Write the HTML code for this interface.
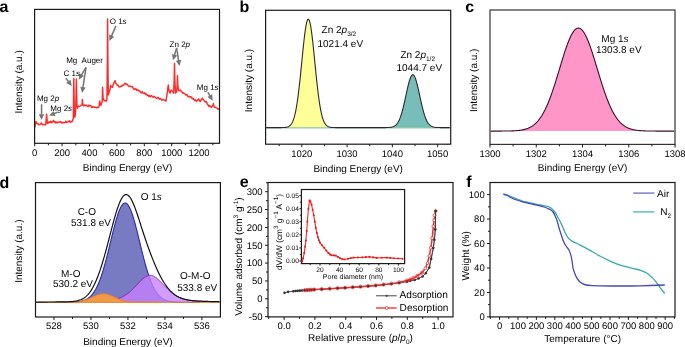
<!DOCTYPE html><html><head><meta charset="utf-8"><style>html,body{margin:0;padding:0;background:#fff;}svg{display:block;will-change:transform;}text{font-family:"Liberation Sans",sans-serif;fill:#000;text-rendering:geometricPrecision;}</style></head><body>
<svg width="685" height="347" viewBox="0 0 685 347">
<text x="-0.5" y="12.1" font-size="16" font-weight="bold" fill="#000">a</text>
<text x="239.5" y="12.3" font-size="16" font-weight="bold" fill="#000">b</text>
<text x="465.2" y="12.3" font-size="16" font-weight="bold" fill="#000">c</text>
<text x="-0.5" y="188" font-size="16" font-weight="bold" fill="#000">d</text>
<text x="239.7" y="187.1" font-size="16" font-weight="bold" fill="#000">e</text>
<text x="466.2" y="186.8" font-size="16" font-weight="bold" fill="#000">f</text>
<path d="M34.8 127.3 L35.9 121.5 L37.3 123.8 L38.05 123.73 L38.8 124.7 L39.65 124.49 L40.5 124.1 L41.4 123 L42.2 124.7 L43.1 124.34 L44 124.5 L44.85 124.81 L45.7 124.7 L46.3 118 L46.6 114.3 L47 119 L47.4 123.3 L48.17 123.25 L48.93 121.83 L49.7 122.4 L50.43 121.35 L51.15 122.92 L51.88 121.69 L52.6 122.1 L53.5 120.4 L54.3 122.1 L55.08 121.57 L55.87 123.09 L56.65 122.04 L57.43 122.77 L58.22 122.05 L59 122.1 L59.8 122.44 L60.6 121.52 L61.4 122.55 L62.2 123.08 L63 122.4 L63.71 122.36 L64.43 122.71 L65.14 122.49 L65.86 121.19 L66.57 122.49 L67.29 122.07 L68 121.8 L68.72 121.34 L69.43 120.73 L70.15 122.33 L70.87 121.48 L71.58 121.9 L72.3 121.4 L73.3 118.2 L73.8 78.6 L74.3 112 L74.9 117.2 L75.6 112 L76.4 79.3 L76.9 104 L77.4 108.1 L78.8 106 L79.53 106.52 L80.27 105.96 L81 105.3 L82.1 104.8 L82.4 99.5 L82.8 105 L83.58 105.9 L84.36 104.91 L85.14 105.78 L85.92 105.13 L86.7 105.3 L87.42 106.35 L88.15 106.41 L88.88 105.02 L89.6 106 L90.32 105.47 L91.04 105.83 L91.76 107.53 L92.48 106.67 L93.2 107 L93.92 107.43 L94.64 106.96 L95.36 107.55 L96.08 107.49 L96.8 107.9 L97.53 107.3 L98.27 107.47 L99 107 L99.7 101 L100.3 104.5 L100.9 105.3 L102.2 101.5 L102.6 87.2 L103.1 98 L104 100.5 L104.75 100.72 L105.5 100.6 L106.2 101.11 L106.9 100 L107.4 60 L107.6 18.9 L107.9 60 L108.3 95 L108.6 94.3 L109.3 91.73 L110 89.29 L110.7 85.5 L111.55 87.11 L112.4 87.3 L113.8 83 L115.1 80.7 L115.8 83.33 L116.5 84 L117.33 85.28 L118.17 85.19 L119 86.8 L120 87.12 L121 86 L121.75 86.48 L122.5 85.1 L123.37 85.31 L124.23 84.04 L125.1 83.3 L126 84.33 L126.9 83.92 L127.8 85.1 L128.53 86.06 L129.27 85.85 L130 86 L131 86.8 L131.8 86.79 L132.6 86.77 L133.4 88.77 L134.2 89.46 L135 88.9 L135.8 88.5 L136.6 90.34 L137.4 89.98 L138.2 89.88 L139 91 L139.8 90.97 L140.6 92.3 L141.4 92.9 L142.2 91.62 L143 93.15 L143.8 93.3 L144.64 92.73 L145.48 94.42 L146.32 93.98 L147.16 95.42 L148 95 L148.75 96.26 L149.5 95.61 L150.25 96.9 L151 95.82 L151.75 95.65 L152.5 96.8 L153.25 97.23 L154 96.33 L154.75 96.89 L155.5 97.55 L156.25 98.19 L157 98.2 L157.75 97.61 L158.5 97.48 L159.25 99.24 L160 98.6 L160.75 98.48 L161.5 100.02 L162.25 100.14 L163 99.36 L163.75 99.77 L164.5 100.1 L165.25 100.64 L166 101.1 L167.2 93 L168.3 85 L169.1 91.1 L170.1 93.1 L171.1 90.1 L171.85 90.89 L172.6 91.1 L173.6 93.1 L174.2 80 L174.5 63.2 L174.8 80 L175.6 93.1 L176.6 92.1 L177.2 85 L177.5 75.8 L177.8 85 L178.6 90.6 L179.4 90.54 L180.2 90.1 L181 90.92 L181.8 91.74 L182.6 93.08 L183.4 92.91 L184.2 93.6 L184.95 93.9 L185.7 94.92 L186.45 94.39 L187.2 94.95 L187.95 96.74 L188.7 96.27 L189.45 96.76 L190.2 97.1 L190.96 96.64 L191.72 97.96 L192.49 98.8 L193.25 98.19 L194.01 99.89 L194.78 100.44 L195.54 99.81 L196.3 101.2 L197.13 100.75 L197.97 99.73 L198.8 99.1 L199.55 100.71 L200.3 101.6 L201.3 99.56 L202.3 98.1 L203.35 99.81 L204.4 100.7 L205.2 102.08 L206 101.54 L206.8 102.52 L207.6 104.65 L208.4 105.2 L209.15 106.63 L209.9 105.7 L210.65 106.61 L211.4 107.2 L212.15 106.29 L212.9 105 L213.4 103.6 L213.9 106 L214.4 107.2 L215.13 107.2 L215.86 107.64 L216.59 107.9 L217.31 108.37 L218.04 109.18 L218.77 108.94 L219.5 109.7" fill="none" stroke="#ff2a2a" stroke-width="1.45" stroke-linejoin="round"/>
<rect x="34.6" y="9.4" width="184.9" height="133.9" fill="none" stroke="#1a1a1a" stroke-width="1.2"/>
<path d="M34.7 143.3v3M62.1 143.3v3M89.5 143.3v3M116.9 143.3v3M144.3 143.3v3M171.7 143.3v3M199.1 143.3v3" stroke="#1a1a1a" stroke-width="1"/>
<path d="M48.4 143.3v2M75.8 143.3v2M103.2 143.3v2M130.6 143.3v2M158 143.3v2M185.4 143.3v2M212.8 143.3v2" stroke="#1a1a1a" stroke-width="1"/>
<text x="34.7" y="155.6" font-size="9.5" text-anchor="middle" >0</text>
<text x="62.1" y="155.6" font-size="9.5" text-anchor="middle" >200</text>
<text x="89.5" y="155.6" font-size="9.5" text-anchor="middle" >400</text>
<text x="116.9" y="155.6" font-size="9.5" text-anchor="middle" >600</text>
<text x="144.3" y="155.6" font-size="9.5" text-anchor="middle" >800</text>
<text x="171.7" y="155.6" font-size="9.5" text-anchor="middle" >1000</text>
<text x="199.1" y="155.6" font-size="9.5" text-anchor="middle" >1200</text>
<text x="127.5" y="170.9" font-size="10" text-anchor="middle" >Binding Energy (eV)</text>
<text transform="translate(21.6,81.9) rotate(-90)" font-size="10" text-anchor="middle">Intensity (a.u.)</text>
<line x1="41.6" y1="104.3" x2="41.53" y2="114.8" stroke="#747474" stroke-width="1.5"/>
<path d="M41.5 120.1L38.84 114.28L44.24 114.32Z" fill="#747474"/>
<line x1="57.4" y1="112.3" x2="54.05" y2="113.59" stroke="#747474" stroke-width="1.5"/>
<path d="M49.1 115.5L53.54 110.89L55.48 115.93Z" fill="#747474"/>
<line x1="65.9" y1="78.2" x2="68.63" y2="81.85" stroke="#747474" stroke-width="1.5"/>
<path d="M71.8 86.1L66.17 83.07L70.49 79.84Z" fill="#747474"/>
<line x1="86" y1="67.4" x2="81.4" y2="75.14" stroke="#747474" stroke-width="1.5"/>
<path d="M78.7 79.7L79.34 73.33L83.98 76.09Z" fill="#747474"/>
<line x1="86" y1="67.4" x2="82.9" y2="87.66" stroke="#747474" stroke-width="1.5"/>
<path d="M82.1 92.9L80.31 86.76L85.65 87.57Z" fill="#747474"/>
<line x1="115.9" y1="25.9" x2="111.5" y2="36.13" stroke="#747474" stroke-width="1.5"/>
<path d="M109.4 41L109.21 34.61L114.17 36.74Z" fill="#747474"/>
<line x1="176.6" y1="47.9" x2="174.48" y2="55.21" stroke="#747474" stroke-width="1.5"/>
<path d="M173 60.3L172.02 53.98L177.21 55.48Z" fill="#747474"/>
<line x1="176.6" y1="47.9" x2="178.66" y2="60.77" stroke="#747474" stroke-width="1.5"/>
<path d="M179.5 66L175.92 60.7L181.25 59.85Z" fill="#747474"/>
<line x1="207.8" y1="92.1" x2="210.08" y2="96.1" stroke="#747474" stroke-width="1.5"/>
<path d="M212.7 100.7L207.48 97L212.17 94.32Z" fill="#747474"/>
<g font-size="8">
<text x="36.9" y="100.9">Mg 2<tspan font-style="italic">p</tspan></text>
<text x="50.3" y="110.7">Mg 2<tspan font-style="italic">s</tspan></text>
<text x="63.6" y="75.6">C 1<tspan font-style="italic">s</tspan></text>
<text x="66.2" y="62.9">Mg</text>
<text x="81.6" y="62.9">Auger</text>
<text x="109.7" y="23.7">O 1<tspan font-style="italic">s</tspan></text>
<text x="169.6" y="46.8">Zn 2<tspan font-style="italic">p</tspan></text>
<text x="196.8" y="89.7">Mg 1<tspan font-style="italic">s</tspan></text>
</g>
<path d="M280.2 127.59 L280.7 127.59 L281.2 127.58 L281.7 127.57 L282.2 127.57 L282.7 127.55 L283.2 127.54 L283.7 127.52 L284.2 127.49 L284.7 127.45 L285.2 127.4 L285.7 127.34 L286.2 127.27 L286.7 127.17 L287.2 127.04 L287.7 126.89 L288.2 126.69 L288.7 126.45 L289.2 126.15 L289.7 125.79 L290.2 125.35 L290.7 124.83 L291.2 124.19 L291.7 123.44 L292.2 122.56 L292.7 121.51 L293.2 120.3 L293.7 118.9 L294.2 117.29 L294.7 115.45 L295.2 113.38 L295.7 111.04 L296.2 108.43 L296.7 105.55 L297.2 102.38 L297.7 98.92 L298.2 95.19 L298.7 91.18 L299.2 86.92 L299.7 82.42 L300.2 77.73 L300.7 72.88 L301.2 67.9 L301.7 62.86 L302.2 57.81 L302.7 52.81 L303.2 47.92 L303.7 43.21 L304.2 38.76 L304.7 34.61 L305.2 30.85 L305.7 27.53 L306.2 24.71 L306.7 22.43 L307.2 20.74 L307.7 19.66 L308.2 19.21 L308.7 19.41 L309.2 20.23 L309.7 21.69 L310.2 23.73 L310.7 26.34 L311.2 29.47 L311.7 33.06 L312.2 37.06 L312.7 41.4 L313.2 46.01 L313.7 50.84 L314.2 55.8 L314.7 60.84 L315.2 65.89 L315.7 70.9 L316.2 75.81 L316.7 80.57 L317.2 85.15 L317.7 89.5 L318.2 93.61 L318.7 97.46 L319.2 101.03 L319.7 104.31 L320.2 107.31 L320.7 110.03 L321.2 112.47 L321.7 114.65 L322.2 116.58 L322.7 118.28 L323.2 119.77 L323.7 121.05 L324.2 122.16 L324.7 123.11 L325.2 123.91 L325.7 124.59 L326.2 125.16 L326.7 125.63 L327.2 126.02 L327.7 126.34 L328.2 126.6 L328.7 126.81 L329.2 126.98 L329.7 127.12 L330.2 127.23 L330.7 127.31 L331.2 127.38 L331.7 127.43 L332.2 127.47 L332.7 127.51 L333.2 127.53 L333.7 127.55 L334.2 127.56 L334.7 127.57 L335.2 127.58 L335.7 127.58 L336.2 127.59 L336.7 127.59 L336.7 127.6 L280.2 127.6 Z" fill="#ffff99"/>
<path d="M384.2 127.59 L384.7 127.59 L385.2 127.58 L385.7 127.58 L386.2 127.57 L386.7 127.56 L387.2 127.55 L387.7 127.53 L388.2 127.51 L388.7 127.48 L389.2 127.45 L389.7 127.41 L390.2 127.35 L390.7 127.29 L391.2 127.21 L391.7 127.11 L392.2 126.99 L392.7 126.84 L393.2 126.67 L393.7 126.46 L394.2 126.2 L394.7 125.91 L395.2 125.56 L395.7 125.15 L396.2 124.68 L396.7 124.13 L397.2 123.5 L397.7 122.78 L398.2 121.97 L398.7 121.06 L399.2 120.03 L399.7 118.89 L400.2 117.63 L400.7 116.25 L401.2 114.75 L401.7 113.12 L402.2 111.38 L402.7 109.51 L403.2 107.54 L403.7 105.47 L404.2 103.32 L404.7 101.09 L405.2 98.81 L405.7 96.5 L406.2 94.18 L406.7 91.88 L407.2 89.62 L407.7 87.42 L408.2 85.32 L408.7 83.34 L409.2 81.52 L409.7 79.87 L410.2 78.42 L410.7 77.19 L411.2 76.2 L411.7 75.47 L412.2 75 L412.7 74.81 L413.2 74.89 L413.7 75.25 L414.2 75.88 L414.7 76.76 L415.2 77.9 L415.7 79.26 L416.2 80.84 L416.7 82.59 L417.2 84.51 L417.7 86.57 L418.2 88.73 L418.7 90.97 L419.2 93.26 L419.7 95.58 L420.2 97.89 L420.7 100.19 L421.2 102.43 L421.7 104.62 L422.2 106.72 L422.7 108.74 L423.2 110.64 L423.7 112.44 L424.2 114.11 L424.7 115.67 L425.2 117.1 L425.7 118.4 L426.2 119.59 L426.7 120.66 L427.2 121.62 L427.7 122.47 L428.2 123.23 L428.7 123.89 L429.2 124.47 L429.7 124.97 L430.2 125.4 L430.7 125.78 L431.2 126.09 L431.7 126.36 L432.2 126.59 L432.7 126.78 L433.2 126.93 L433.7 127.06 L434.2 127.17 L434.7 127.26 L435.2 127.33 L435.7 127.39 L436.2 127.43 L436.7 127.47 L437.2 127.5 L437.7 127.52 L438.2 127.54 L438.7 127.55 L439.2 127.57 L439.7 127.57 L440.2 127.58 L440.7 127.59 L441.2 127.59 L441.7 127.59 L441.7 127.6 L384.2 127.6 Z" fill="#77bdb9"/>
<line x1="265.6" y1="127.89999999999999" x2="450.7" y2="127.89999999999999" stroke="#6ab88c" stroke-width="1"/>
<path d="M266.2 127.6 L266.7 127.6 L267.2 127.6 L267.7 127.6 L268.2 127.6 L268.7 127.6 L269.2 127.6 L269.7 127.6 L270.2 127.6 L270.7 127.6 L271.2 127.6 L271.7 127.6 L272.2 127.6 L272.7 127.6 L273.2 127.6 L273.7 127.6 L274.2 127.6 L274.7 127.6 L275.2 127.6 L275.7 127.6 L276.2 127.6 L276.7 127.6 L277.2 127.6 L277.7 127.6 L278.2 127.6 L278.7 127.6 L279.2 127.6 L279.7 127.59 L280.2 127.59 L280.7 127.59 L281.2 127.58 L281.7 127.57 L282.2 127.57 L282.7 127.55 L283.2 127.54 L283.7 127.52 L284.2 127.49 L284.7 127.45 L285.2 127.4 L285.7 127.34 L286.2 127.27 L286.7 127.17 L287.2 127.04 L287.7 126.89 L288.2 126.69 L288.7 126.45 L289.2 126.15 L289.7 125.79 L290.2 125.35 L290.7 124.83 L291.2 124.19 L291.7 123.44 L292.2 122.56 L292.7 121.51 L293.2 120.3 L293.7 118.9 L294.2 117.29 L294.7 115.45 L295.2 113.38 L295.7 111.04 L296.2 108.43 L296.7 105.55 L297.2 102.38 L297.7 98.92 L298.2 95.19 L298.7 91.18 L299.2 86.92 L299.7 82.42 L300.2 77.73 L300.7 72.88 L301.2 67.9 L301.7 62.86 L302.2 57.81 L302.7 52.81 L303.2 47.92 L303.7 43.21 L304.2 38.76 L304.7 34.61 L305.2 30.85 L305.7 27.53 L306.2 24.71 L306.7 22.43 L307.2 20.74 L307.7 19.66 L308.2 19.21 L308.7 19.41 L309.2 20.23 L309.7 21.69 L310.2 23.73 L310.7 26.34 L311.2 29.47 L311.7 33.06 L312.2 37.06 L312.7 41.4 L313.2 46.01 L313.7 50.84 L314.2 55.8 L314.7 60.84 L315.2 65.89 L315.7 70.9 L316.2 75.81 L316.7 80.57 L317.2 85.15 L317.7 89.5 L318.2 93.61 L318.7 97.46 L319.2 101.03 L319.7 104.31 L320.2 107.31 L320.7 110.03 L321.2 112.47 L321.7 114.65 L322.2 116.58 L322.7 118.28 L323.2 119.77 L323.7 121.05 L324.2 122.16 L324.7 123.11 L325.2 123.91 L325.7 124.59 L326.2 125.16 L326.7 125.63 L327.2 126.02 L327.7 126.34 L328.2 126.6 L328.7 126.81 L329.2 126.98 L329.7 127.12 L330.2 127.23 L330.7 127.31 L331.2 127.38 L331.7 127.43 L332.2 127.47 L332.7 127.51 L333.2 127.53 L333.7 127.55 L334.2 127.56 L334.7 127.57 L335.2 127.58 L335.7 127.58 L336.2 127.59 L336.7 127.59 L337.2 127.59 L337.7 127.6 L338.2 127.6 L338.7 127.6 L339.2 127.6 L339.7 127.6 L340.2 127.6 L340.7 127.6 L341.2 127.6 L341.7 127.6 L342.2 127.6 L342.7 127.6 L343.2 127.6 L343.7 127.6 L344.2 127.6 L344.7 127.6 L345.2 127.6 L345.7 127.6 L346.2 127.6 L346.7 127.6 L347.2 127.6 L347.7 127.6 L348.2 127.6 L348.7 127.6 L349.2 127.6 L349.7 127.6 L350.2 127.6 L350.7 127.6 L351.2 127.6 L351.7 127.6 L352.2 127.6 L352.7 127.6 L353.2 127.6 L353.7 127.6 L354.2 127.6 L354.7 127.6 L355.2 127.6 L355.7 127.6 L356.2 127.6 L356.7 127.6 L357.2 127.6 L357.7 127.6 L358.2 127.6 L358.7 127.6 L359.2 127.6 L359.7 127.6 L360.2 127.6 L360.7 127.6 L361.2 127.6 L361.7 127.6 L362.2 127.6 L362.7 127.6 L363.2 127.6 L363.7 127.6 L364.2 127.6 L364.7 127.6 L365.2 127.6 L365.7 127.6 L366.2 127.6 L366.7 127.6 L367.2 127.6 L367.7 127.6 L368.2 127.6 L368.7 127.6 L369.2 127.6 L369.7 127.6 L370.2 127.6 L370.7 127.6 L371.2 127.6 L371.7 127.6 L372.2 127.6 L372.7 127.6 L373.2 127.6 L373.7 127.6 L374.2 127.6 L374.7 127.6 L375.2 127.6 L375.7 127.6 L376.2 127.6 L376.7 127.6 L377.2 127.6 L377.7 127.6 L378.2 127.6 L378.7 127.6 L379.2 127.6 L379.7 127.6 L380.2 127.6 L380.7 127.6 L381.2 127.6 L381.7 127.6 L382.2 127.6 L382.7 127.6 L383.2 127.59 L383.7 127.59 L384.2 127.59 L384.7 127.59 L385.2 127.58 L385.7 127.58 L386.2 127.57 L386.7 127.56 L387.2 127.55 L387.7 127.53 L388.2 127.51 L388.7 127.48 L389.2 127.45 L389.7 127.41 L390.2 127.35 L390.7 127.29 L391.2 127.21 L391.7 127.11 L392.2 126.99 L392.7 126.84 L393.2 126.67 L393.7 126.46 L394.2 126.2 L394.7 125.91 L395.2 125.56 L395.7 125.15 L396.2 124.68 L396.7 124.13 L397.2 123.5 L397.7 122.78 L398.2 121.97 L398.7 121.06 L399.2 120.03 L399.7 118.89 L400.2 117.63 L400.7 116.25 L401.2 114.75 L401.7 113.12 L402.2 111.38 L402.7 109.51 L403.2 107.54 L403.7 105.47 L404.2 103.32 L404.7 101.09 L405.2 98.81 L405.7 96.5 L406.2 94.18 L406.7 91.88 L407.2 89.62 L407.7 87.42 L408.2 85.32 L408.7 83.34 L409.2 81.52 L409.7 79.87 L410.2 78.42 L410.7 77.19 L411.2 76.2 L411.7 75.47 L412.2 75 L412.7 74.81 L413.2 74.89 L413.7 75.25 L414.2 75.88 L414.7 76.76 L415.2 77.9 L415.7 79.26 L416.2 80.84 L416.7 82.59 L417.2 84.51 L417.7 86.57 L418.2 88.73 L418.7 90.97 L419.2 93.26 L419.7 95.58 L420.2 97.89 L420.7 100.19 L421.2 102.43 L421.7 104.62 L422.2 106.72 L422.7 108.74 L423.2 110.64 L423.7 112.44 L424.2 114.11 L424.7 115.67 L425.2 117.1 L425.7 118.4 L426.2 119.59 L426.7 120.66 L427.2 121.62 L427.7 122.47 L428.2 123.23 L428.7 123.89 L429.2 124.47 L429.7 124.97 L430.2 125.4 L430.7 125.78 L431.2 126.09 L431.7 126.36 L432.2 126.59 L432.7 126.78 L433.2 126.93 L433.7 127.06 L434.2 127.17 L434.7 127.26 L435.2 127.33 L435.7 127.39 L436.2 127.43 L436.7 127.47 L437.2 127.5 L437.7 127.52 L438.2 127.54 L438.7 127.55 L439.2 127.57 L439.7 127.57 L440.2 127.58 L440.7 127.59 L441.2 127.59 L441.7 127.59 L442.2 127.59 L442.7 127.6 L443.2 127.6 L443.7 127.6 L444.2 127.6 L444.7 127.6 L445.2 127.6 L445.7 127.6 L446.2 127.6 L446.7 127.6 L447.2 127.6 L447.7 127.6 L448.2 127.6 L448.7 127.6 L449.2 127.6 L449.7 127.6" fill="none" stroke="#2a2a2a" stroke-width="1.1"/>
<rect x="265.6" y="10.3" width="185.1" height="133.9" fill="none" stroke="#1a1a1a" stroke-width="1.2"/>
<path d="M301.82 144.2v3M347.09 144.2v3M392.36 144.2v3M437.63 144.2v3" stroke="#1a1a1a" stroke-width="1"/>
<path d="M279.18 144.2v2M324.45 144.2v2M369.72 144.2v2M414.99 144.2v2" stroke="#1a1a1a" stroke-width="1"/>
<text x="301.82" y="156.5" font-size="9.5" text-anchor="middle" >1020</text>
<text x="347.09" y="156.5" font-size="9.5" text-anchor="middle" >1030</text>
<text x="392.36" y="156.5" font-size="9.5" text-anchor="middle" >1040</text>
<text x="437.63" y="156.5" font-size="9.5" text-anchor="middle" >1050</text>
<text x="358.15" y="171.9" font-size="10" text-anchor="middle" >Binding Energy (eV)</text>
<text transform="translate(251.5,80.5) rotate(-90)" font-size="10" text-anchor="middle">Intensity (a.u.)</text>
<g font-size="10">
<text x="321.6" y="32.5">Zn 2<tspan font-style="italic">p</tspan><tspan font-size="6.5" dy="3.8">3/2</tspan></text>
<text x="317.5" y="46.7">1021.4 eV</text>
<text x="400.4" y="57.5">Zn 2<tspan font-style="italic">p</tspan><tspan font-size="6.5" dy="3.8">1/2</tspan></text>
<text x="396.5" y="70.8">1044.7 eV</text>
</g>
<path d="M510.1 130.96 L510.6 130.95 L511.1 130.93 L511.6 130.91 L512.1 130.89 L512.6 130.87 L513.1 130.85 L513.6 130.83 L514.1 130.8 L514.6 130.77 L515.1 130.74 L515.6 130.71 L516.1 130.68 L516.6 130.64 L517.1 130.59 L517.6 130.55 L518.1 130.5 L518.6 130.45 L519.1 130.39 L519.6 130.33 L520.1 130.26 L520.6 130.19 L521.1 130.11 L521.6 130.03 L522.1 129.94 L522.6 129.84 L523.1 129.74 L523.6 129.63 L524.1 129.51 L524.6 129.38 L525.1 129.25 L525.6 129.1 L526.1 128.95 L526.6 128.79 L527.1 128.61 L527.6 128.42 L528.1 128.23 L528.6 128.02 L529.1 127.79 L529.6 127.55 L530.1 127.3 L530.6 127.03 L531.1 126.75 L531.6 126.45 L532.1 126.14 L532.6 125.8 L533.1 125.45 L533.6 125.08 L534.1 124.69 L534.6 124.27 L535.1 123.84 L535.6 123.38 L536.1 122.91 L536.6 122.4 L537.1 121.88 L537.6 121.33 L538.1 120.75 L538.6 120.14 L539.1 119.51 L539.6 118.86 L540.1 118.17 L540.6 117.45 L541.1 116.71 L541.6 115.94 L542.1 115.13 L542.6 114.3 L543.1 113.43 L543.6 112.53 L544.1 111.6 L544.6 110.64 L545.1 109.64 L545.6 108.62 L546.1 107.56 L546.6 106.47 L547.1 105.34 L547.6 104.18 L548.1 103 L548.6 101.77 L549.1 100.52 L549.6 99.24 L550.1 97.93 L550.6 96.58 L551.1 95.21 L551.6 93.81 L552.1 92.39 L552.6 90.93 L553.1 89.45 L553.6 87.95 L554.1 86.43 L554.6 84.88 L555.1 83.31 L555.6 81.73 L556.1 80.13 L556.6 78.52 L557.1 76.89 L557.6 75.25 L558.1 73.6 L558.6 71.95 L559.1 70.29 L559.6 68.63 L560.1 66.97 L560.6 65.31 L561.1 63.65 L561.6 62.01 L562.1 60.37 L562.6 58.75 L563.1 57.14 L563.6 55.55 L564.1 53.97 L564.6 52.43 L565.1 50.9 L565.6 49.41 L566.1 47.95 L566.6 46.52 L567.1 45.12 L567.6 43.77 L568.1 42.45 L568.6 41.19 L569.1 39.96 L569.6 38.79 L570.1 37.66 L570.6 36.59 L571.1 35.58 L571.6 34.62 L572.1 33.72 L572.6 32.89 L573.1 32.11 L573.6 31.4 L574.1 30.76 L574.6 30.18 L575.1 29.67 L575.6 29.24 L576.1 28.87 L576.6 28.57 L577.1 28.35 L577.6 28.19 L578.1 28.11 L578.6 28.11 L579.1 28.17 L579.6 28.31 L580.1 28.52 L580.6 28.8 L581.1 29.16 L581.6 29.58 L582.1 30.08 L582.6 30.64 L583.1 31.27 L583.6 31.97 L584.1 32.73 L584.6 33.55 L585.1 34.44 L585.6 35.38 L586.1 36.39 L586.6 37.45 L587.1 38.56 L587.6 39.72 L588.1 40.94 L588.6 42.2 L589.1 43.5 L589.6 44.85 L590.1 46.23 L590.6 47.66 L591.1 49.11 L591.6 50.6 L592.1 52.12 L592.6 53.66 L593.1 55.23 L593.6 56.82 L594.1 58.42 L594.6 60.04 L595.1 61.68 L595.6 63.32 L596.1 64.98 L596.6 66.63 L597.1 68.3 L597.6 69.96 L598.1 71.62 L598.6 73.27 L599.1 74.92 L599.6 76.56 L600.1 78.19 L600.6 79.81 L601.1 81.41 L601.6 83 L602.1 84.57 L602.6 86.12 L603.1 87.65 L603.6 89.16 L604.1 90.64 L604.6 92.1 L605.1 93.53 L605.6 94.93 L606.1 96.31 L606.6 97.66 L607.1 98.98 L607.6 100.27 L608.1 101.53 L608.6 102.75 L609.1 103.95 L609.6 105.11 L610.1 106.24 L610.6 107.34 L611.1 108.41 L611.6 109.44 L612.1 110.44 L612.6 111.41 L613.1 112.35 L613.6 113.25 L614.1 114.12 L614.6 114.97 L615.1 115.78 L615.6 116.56 L616.1 117.31 L616.6 118.03 L617.1 118.72 L617.6 119.38 L618.1 120.02 L618.6 120.63 L619.1 121.21 L619.6 121.77 L620.1 122.3 L620.6 122.81 L621.1 123.29 L621.6 123.75 L622.1 124.19 L622.6 124.61 L623.1 125 L623.6 125.38 L624.1 125.73 L624.6 126.07 L625.1 126.39 L625.6 126.69 L626.1 126.98 L626.6 127.25 L627.1 127.5 L627.6 127.75 L628.1 127.97 L628.6 128.19 L629.1 128.39 L629.6 128.57 L630.1 128.75 L630.6 128.92 L631.1 129.07 L631.6 129.22 L632.1 129.36 L632.6 129.49 L633.1 129.61 L633.6 129.72 L634.1 129.82 L634.6 129.92 L635.1 130.01 L635.6 130.09 L636.1 130.17 L636.6 130.25 L637.1 130.31 L637.6 130.38 L638.1 130.43 L638.6 130.49 L639.1 130.54 L639.6 130.59 L640.1 130.63 L640.6 130.67 L641.1 130.7 L641.6 130.74 L642.1 130.77 L642.6 130.8 L643.1 130.82 L643.6 130.85 L644.1 130.87 L644.6 130.89 L645.1 130.91 L645.6 130.93 L646.1 130.94 L646.6 130.96 L647.1 130.97 L647.6 130.98 L648.1 130.99 L648.6 131 L649.1 131.01 L649.6 131.02 L649.6 131.1 L510.1 131.1 Z" fill="#ff96c8"/>
<path d="M490.6 131.1 L491.1 131.1 L491.6 131.1 L492.1 131.1 L492.6 131.1 L493.1 131.1 L493.6 131.1 L494.1 131.1 L494.6 131.1 L495.1 131.09 L495.6 131.09 L496.1 131.09 L496.6 131.09 L497.1 131.09 L497.6 131.09 L498.1 131.09 L498.6 131.09 L499.1 131.09 L499.6 131.08 L500.1 131.08 L500.6 131.08 L501.1 131.08 L501.6 131.08 L502.1 131.07 L502.6 131.07 L503.1 131.07 L503.6 131.06 L504.1 131.06 L504.6 131.05 L505.1 131.05 L505.6 131.04 L506.1 131.04 L506.6 131.03 L507.1 131.02 L507.6 131.01 L508.1 131.01 L508.6 131 L509.1 130.98 L509.6 130.97 L510.1 130.96 L510.6 130.95 L511.1 130.93 L511.6 130.91 L512.1 130.89 L512.6 130.87 L513.1 130.85 L513.6 130.83 L514.1 130.8 L514.6 130.77 L515.1 130.74 L515.6 130.71 L516.1 130.68 L516.6 130.64 L517.1 130.59 L517.6 130.55 L518.1 130.5 L518.6 130.45 L519.1 130.39 L519.6 130.33 L520.1 130.26 L520.6 130.19 L521.1 130.11 L521.6 130.03 L522.1 129.94 L522.6 129.84 L523.1 129.74 L523.6 129.63 L524.1 129.51 L524.6 129.38 L525.1 129.25 L525.6 129.1 L526.1 128.95 L526.6 128.79 L527.1 128.61 L527.6 128.42 L528.1 128.23 L528.6 128.02 L529.1 127.79 L529.6 127.55 L530.1 127.3 L530.6 127.03 L531.1 126.75 L531.6 126.45 L532.1 126.14 L532.6 125.8 L533.1 125.45 L533.6 125.08 L534.1 124.69 L534.6 124.27 L535.1 123.84 L535.6 123.38 L536.1 122.91 L536.6 122.4 L537.1 121.88 L537.6 121.33 L538.1 120.75 L538.6 120.14 L539.1 119.51 L539.6 118.86 L540.1 118.17 L540.6 117.45 L541.1 116.71 L541.6 115.94 L542.1 115.13 L542.6 114.3 L543.1 113.43 L543.6 112.53 L544.1 111.6 L544.6 110.64 L545.1 109.64 L545.6 108.62 L546.1 107.56 L546.6 106.47 L547.1 105.34 L547.6 104.18 L548.1 103 L548.6 101.77 L549.1 100.52 L549.6 99.24 L550.1 97.93 L550.6 96.58 L551.1 95.21 L551.6 93.81 L552.1 92.39 L552.6 90.93 L553.1 89.45 L553.6 87.95 L554.1 86.43 L554.6 84.88 L555.1 83.31 L555.6 81.73 L556.1 80.13 L556.6 78.52 L557.1 76.89 L557.6 75.25 L558.1 73.6 L558.6 71.95 L559.1 70.29 L559.6 68.63 L560.1 66.97 L560.6 65.31 L561.1 63.65 L561.6 62.01 L562.1 60.37 L562.6 58.75 L563.1 57.14 L563.6 55.55 L564.1 53.97 L564.6 52.43 L565.1 50.9 L565.6 49.41 L566.1 47.95 L566.6 46.52 L567.1 45.12 L567.6 43.77 L568.1 42.45 L568.6 41.19 L569.1 39.96 L569.6 38.79 L570.1 37.66 L570.6 36.59 L571.1 35.58 L571.6 34.62 L572.1 33.72 L572.6 32.89 L573.1 32.11 L573.6 31.4 L574.1 30.76 L574.6 30.18 L575.1 29.67 L575.6 29.24 L576.1 28.87 L576.6 28.57 L577.1 28.35 L577.6 28.19 L578.1 28.11 L578.6 28.11 L579.1 28.17 L579.6 28.31 L580.1 28.52 L580.6 28.8 L581.1 29.16 L581.6 29.58 L582.1 30.08 L582.6 30.64 L583.1 31.27 L583.6 31.97 L584.1 32.73 L584.6 33.55 L585.1 34.44 L585.6 35.38 L586.1 36.39 L586.6 37.45 L587.1 38.56 L587.6 39.72 L588.1 40.94 L588.6 42.2 L589.1 43.5 L589.6 44.85 L590.1 46.23 L590.6 47.66 L591.1 49.11 L591.6 50.6 L592.1 52.12 L592.6 53.66 L593.1 55.23 L593.6 56.82 L594.1 58.42 L594.6 60.04 L595.1 61.68 L595.6 63.32 L596.1 64.98 L596.6 66.63 L597.1 68.3 L597.6 69.96 L598.1 71.62 L598.6 73.27 L599.1 74.92 L599.6 76.56 L600.1 78.19 L600.6 79.81 L601.1 81.41 L601.6 83 L602.1 84.57 L602.6 86.12 L603.1 87.65 L603.6 89.16 L604.1 90.64 L604.6 92.1 L605.1 93.53 L605.6 94.93 L606.1 96.31 L606.6 97.66 L607.1 98.98 L607.6 100.27 L608.1 101.53 L608.6 102.75 L609.1 103.95 L609.6 105.11 L610.1 106.24 L610.6 107.34 L611.1 108.41 L611.6 109.44 L612.1 110.44 L612.6 111.41 L613.1 112.35 L613.6 113.25 L614.1 114.12 L614.6 114.97 L615.1 115.78 L615.6 116.56 L616.1 117.31 L616.6 118.03 L617.1 118.72 L617.6 119.38 L618.1 120.02 L618.6 120.63 L619.1 121.21 L619.6 121.77 L620.1 122.3 L620.6 122.81 L621.1 123.29 L621.6 123.75 L622.1 124.19 L622.6 124.61 L623.1 125 L623.6 125.38 L624.1 125.73 L624.6 126.07 L625.1 126.39 L625.6 126.69 L626.1 126.98 L626.6 127.25 L627.1 127.5 L627.6 127.75 L628.1 127.97 L628.6 128.19 L629.1 128.39 L629.6 128.57 L630.1 128.75 L630.6 128.92 L631.1 129.07 L631.6 129.22 L632.1 129.36 L632.6 129.49 L633.1 129.61 L633.6 129.72 L634.1 129.82 L634.6 129.92 L635.1 130.01 L635.6 130.09 L636.1 130.17 L636.6 130.25 L637.1 130.31 L637.6 130.38 L638.1 130.43 L638.6 130.49 L639.1 130.54 L639.6 130.59 L640.1 130.63 L640.6 130.67 L641.1 130.7 L641.6 130.74 L642.1 130.77 L642.6 130.8 L643.1 130.82 L643.6 130.85 L644.1 130.87 L644.6 130.89 L645.1 130.91 L645.6 130.93 L646.1 130.94 L646.6 130.96 L647.1 130.97 L647.6 130.98 L648.1 130.99 L648.6 131 L649.1 131.01 L649.6 131.02 L650.1 131.03 L650.6 131.04 L651.1 131.04 L651.6 131.05 L652.1 131.05 L652.6 131.06 L653.1 131.06 L653.6 131.07 L654.1 131.07 L654.6 131.07 L655.1 131.07 L655.6 131.08 L656.1 131.08 L656.6 131.08 L657.1 131.08 L657.6 131.09 L658.1 131.09 L658.6 131.09 L659.1 131.09 L659.6 131.09 L660.1 131.09 L660.6 131.09 L661.1 131.09 L661.6 131.09 L662.1 131.09 L662.6 131.1 L663.1 131.1 L663.6 131.1 L664.1 131.1 L664.6 131.1 L665.1 131.1 L665.6 131.1 L666.1 131.1 L666.6 131.1 L667.1 131.1 L667.6 131.1 L668.1 131.1 L668.6 131.1 L669.1 131.1 L669.6 131.1 L670.1 131.1 L670.6 131.1 L671.1 131.1 L671.6 131.1 L672.1 131.1 L672.6 131.1 L673.1 131.1 L673.6 131.1 L674.1 131.1" fill="none" stroke="#3a1028" stroke-width="1.1"/>
<rect x="490" y="10" width="185" height="134.4" fill="none" stroke="#333" stroke-width="1.2"/>
<path d="M490 144.4v3M536.25 144.4v3M582.5 144.4v3M628.75 144.4v3M675 144.4v3" stroke="#1a1a1a" stroke-width="1"/>
<path d="M513.12 144.4v2M559.38 144.4v2M605.62 144.4v2M651.88 144.4v2" stroke="#1a1a1a" stroke-width="1"/>
<text x="490" y="156.6" font-size="9.5" text-anchor="middle" >1300</text>
<text x="536.25" y="156.6" font-size="9.5" text-anchor="middle" >1302</text>
<text x="582.5" y="156.6" font-size="9.5" text-anchor="middle" >1304</text>
<text x="628.75" y="156.6" font-size="9.5" text-anchor="middle" >1306</text>
<text x="675" y="156.6" font-size="9.5" text-anchor="middle" >1308</text>
<text x="582.5" y="171.4" font-size="10" text-anchor="middle" >Binding Energy (eV)</text>
<text transform="translate(477.4,80.3) rotate(-90)" font-size="10" text-anchor="middle">Intensity (a.u.)</text>
<g font-size="10">
<text x="601.3" y="42.1">Mg 1<tspan font-style="italic">s</tspan></text>
<text x="596" y="52.9">1303.8 eV</text>
</g>
<path d="M60.1 302.3 L60.6 302.29 L61.1 302.29 L61.6 302.29 L62.1 302.29 L62.6 302.29 L63.1 302.29 L63.6 302.29 L64.1 302.28 L64.6 302.28 L65.1 302.28 L65.6 302.28 L66.1 302.27 L66.6 302.27 L67.1 302.26 L67.6 302.26 L68.1 302.25 L68.6 302.24 L69.1 302.24 L69.6 302.23 L70.1 302.22 L70.6 302.21 L71.1 302.19 L71.6 302.18 L72.1 302.16 L72.6 302.15 L73.1 302.13 L73.6 302.1 L74.1 302.08 L74.6 302.05 L75.1 302.02 L75.6 301.98 L76.1 301.94 L76.6 301.9 L77.1 301.85 L77.6 301.8 L78.1 301.74 L78.6 301.68 L79.1 301.61 L79.6 301.53 L80.1 301.44 L80.6 301.35 L81.1 301.24 L81.6 301.13 L82.1 301 L82.6 300.86 L83.1 300.72 L83.6 300.55 L84.1 300.37 L84.6 300.18 L85.1 299.97 L85.6 299.74 L86.1 299.5 L86.6 299.23 L87.1 298.94 L87.6 298.63 L88.1 298.3 L88.6 297.94 L89.1 297.55 L89.6 297.13 L90.1 296.69 L90.6 296.21 L91.1 295.7 L91.6 295.16 L92.1 294.58 L92.6 293.96 L93.1 293.31 L93.6 292.61 L94.1 291.88 L94.6 291.1 L95.1 290.27 L95.6 289.41 L96.1 288.49 L96.6 287.53 L97.1 286.51 L97.6 285.45 L98.1 284.34 L98.6 283.18 L99.1 281.96 L99.6 280.7 L100.1 279.38 L100.6 278.01 L101.1 276.59 L101.6 275.11 L102.1 273.59 L102.6 272.01 L103.1 270.39 L103.6 268.72 L104.1 267.01 L104.6 265.25 L105.1 263.44 L105.6 261.6 L106.1 259.72 L106.6 257.81 L107.1 255.86 L107.6 253.89 L108.1 251.89 L108.6 249.87 L109.1 247.83 L109.6 245.78 L110.1 243.72 L110.6 241.66 L111.1 239.6 L111.6 237.54 L112.1 235.5 L112.6 233.47 L113.1 231.46 L113.6 229.48 L114.1 227.54 L114.6 225.63 L115.1 223.76 L115.6 221.95 L116.1 220.18 L116.6 218.48 L117.1 216.84 L117.6 215.27 L118.1 213.78 L118.6 212.37 L119.1 211.04 L119.6 209.8 L120.1 208.66 L120.6 207.61 L121.1 206.66 L121.6 205.81 L122.1 205.07 L122.6 204.45 L123.1 203.93 L123.6 203.52 L124.1 203.23 L124.6 203.06 L125.1 203 L125.6 203.06 L126.1 203.23 L126.6 203.52 L127.1 203.93 L127.6 204.45 L128.1 205.07 L128.6 205.81 L129.1 206.66 L129.6 207.61 L130.1 208.66 L130.6 209.8 L131.1 211.04 L131.6 212.37 L132.1 213.78 L132.6 215.27 L133.1 216.84 L133.6 218.48 L134.1 220.18 L134.6 221.95 L135.1 223.76 L135.6 225.63 L136.1 227.54 L136.6 229.48 L137.1 231.46 L137.6 233.47 L138.1 235.5 L138.6 237.54 L139.1 239.6 L139.6 241.66 L140.1 243.72 L140.6 245.78 L141.1 247.83 L141.6 249.87 L142.1 251.89 L142.6 253.89 L143.1 255.86 L143.6 257.81 L144.1 259.72 L144.6 261.6 L145.1 263.44 L145.6 265.25 L146.1 267.01 L146.6 268.72 L147.1 270.39 L147.6 272.01 L148.1 273.59 L148.6 275.11 L149.1 276.59 L149.6 278.01 L150.1 279.38 L150.6 280.7 L151.1 281.96 L151.6 283.18 L152.1 284.34 L152.6 285.45 L153.1 286.51 L153.6 287.53 L154.1 288.49 L154.6 289.41 L155.1 290.27 L155.6 291.1 L156.1 291.88 L156.6 292.61 L157.1 293.31 L157.6 293.96 L158.1 294.58 L158.6 295.16 L159.1 295.7 L159.6 296.21 L160.1 296.69 L160.6 297.13 L161.1 297.55 L161.6 297.94 L162.1 298.3 L162.6 298.63 L163.1 298.94 L163.6 299.23 L164.1 299.5 L164.6 299.74 L165.1 299.97 L165.6 300.18 L166.1 300.37 L166.6 300.55 L167.1 300.72 L167.6 300.86 L168.1 301 L168.6 301.13 L169.1 301.24 L169.6 301.35 L170.1 301.44 L170.6 301.53 L171.1 301.61 L171.6 301.68 L172.1 301.74 L172.6 301.8 L173.1 301.85 L173.6 301.9 L174.1 301.94 L174.6 301.98 L175.1 302.02 L175.6 302.05 L176.1 302.08 L176.6 302.1 L177.1 302.13 L177.6 302.15 L178.1 302.16 L178.6 302.18 L179.1 302.19 L179.6 302.21 L180.1 302.22 L180.6 302.23 L181.1 302.24 L181.6 302.24 L182.1 302.25 L182.6 302.26 L183.1 302.26 L183.6 302.27 L184.1 302.27 L184.6 302.28 L185.1 302.28 L185.6 302.28 L186.1 302.28 L186.6 302.29 L187.1 302.29 L187.6 302.29 L188.1 302.29 L188.6 302.29 L189.1 302.29 L189.6 302.29 L190.1 302.3 L190.6 302.3 L191.1 302.3 L191.6 302.3 L192.1 302.3 L192.6 302.3 L193.1 302.3 L193.6 302.3 L194.1 302.3 L194.6 302.3 L195.1 302.3 L195.6 302.3 L196.1 302.3 L196.6 302.3 L197.1 302.3 L197.6 302.3 L198.1 302.3 L198.6 302.3 L199.1 302.3 L199.6 302.3 L199.6 302.3 L60.1 302.3 Z" fill="#797bc2"/>
<path d="M60.1 302.3 L60.6 302.29 L61.1 302.29 L61.6 302.29 L62.1 302.29 L62.6 302.29 L63.1 302.29 L63.6 302.29 L64.1 302.28 L64.6 302.28 L65.1 302.28 L65.6 302.28 L66.1 302.27 L66.6 302.27 L67.1 302.26 L67.6 302.26 L68.1 302.25 L68.6 302.24 L69.1 302.24 L69.6 302.23 L70.1 302.22 L70.6 302.21 L71.1 302.19 L71.6 302.18 L72.1 302.16 L72.6 302.15 L73.1 302.13 L73.6 302.1 L74.1 302.08 L74.6 302.05 L75.1 302.02 L75.6 301.98 L76.1 301.94 L76.6 301.9 L77.1 301.85 L77.6 301.8 L78.1 301.74 L78.6 301.68 L79.1 301.61 L79.6 301.53 L80.1 301.44 L80.6 301.35 L81.1 301.24 L81.6 301.13 L82.1 301 L82.6 300.86 L83.1 300.72 L83.6 300.55 L84.1 300.37 L84.6 300.18 L85.1 299.97 L85.6 299.74 L86.1 299.5 L86.6 299.23 L87.1 298.94 L87.6 298.63 L88.1 298.3 L88.6 297.94 L89.1 297.55 L89.6 297.13 L90.1 296.69 L90.6 296.21 L91.1 295.7 L91.6 295.16 L92.1 294.58 L92.6 293.96 L93.1 293.31 L93.6 292.61 L94.1 291.88 L94.6 291.1 L95.1 290.27 L95.6 289.41 L96.1 288.49 L96.6 287.53 L97.1 286.51 L97.6 285.45 L98.1 284.34 L98.6 283.18 L99.1 281.96 L99.6 280.7 L100.1 279.38 L100.6 278.01 L101.1 276.59 L101.6 275.11 L102.1 273.59 L102.6 272.01 L103.1 270.39 L103.6 268.72 L104.1 267.01 L104.6 265.25 L105.1 263.44 L105.6 261.6 L106.1 259.72 L106.6 257.81 L107.1 255.86 L107.6 253.89 L108.1 251.89 L108.6 249.87 L109.1 247.83 L109.6 245.78 L110.1 243.72 L110.6 241.66 L111.1 239.6 L111.6 237.54 L112.1 235.5 L112.6 233.47 L113.1 231.46 L113.6 229.48 L114.1 227.54 L114.6 225.63 L115.1 223.76 L115.6 221.95 L116.1 220.18 L116.6 218.48 L117.1 216.84 L117.6 215.27 L118.1 213.78 L118.6 212.37 L119.1 211.04 L119.6 209.8 L120.1 208.66 L120.6 207.61 L121.1 206.66 L121.6 205.81 L122.1 205.07 L122.6 204.45 L123.1 203.93 L123.6 203.52 L124.1 203.23 L124.6 203.06 L125.1 203 L125.6 203.06 L126.1 203.23 L126.6 203.52 L127.1 203.93 L127.6 204.45 L128.1 205.07 L128.6 205.81 L129.1 206.66 L129.6 207.61 L130.1 208.66 L130.6 209.8 L131.1 211.04 L131.6 212.37 L132.1 213.78 L132.6 215.27 L133.1 216.84 L133.6 218.48 L134.1 220.18 L134.6 221.95 L135.1 223.76 L135.6 225.63 L136.1 227.54 L136.6 229.48 L137.1 231.46 L137.6 233.47 L138.1 235.5 L138.6 237.54 L139.1 239.6 L139.6 241.66 L140.1 243.72 L140.6 245.78 L141.1 247.83 L141.6 249.87 L142.1 251.89 L142.6 253.89 L143.1 255.86 L143.6 257.81 L144.1 259.72 L144.6 261.6 L145.1 263.44 L145.6 265.25 L146.1 267.01 L146.6 268.72 L147.1 270.39 L147.6 272.01 L148.1 273.59 L148.6 275.11 L149.1 276.59 L149.6 278.01 L150.1 279.38 L150.6 280.7 L151.1 281.96 L151.6 283.18 L152.1 284.34 L152.6 285.45 L153.1 286.51 L153.6 287.53 L154.1 288.49 L154.6 289.41 L155.1 290.27 L155.6 291.1 L156.1 291.88 L156.6 292.61 L157.1 293.31 L157.6 293.96 L158.1 294.58 L158.6 295.16 L159.1 295.7 L159.6 296.21 L160.1 296.69 L160.6 297.13 L161.1 297.55 L161.6 297.94 L162.1 298.3 L162.6 298.63 L163.1 298.94 L163.6 299.23 L164.1 299.5 L164.6 299.74 L165.1 299.97 L165.6 300.18 L166.1 300.37 L166.6 300.55 L167.1 300.72 L167.6 300.86 L168.1 301 L168.6 301.13 L169.1 301.24 L169.6 301.35 L170.1 301.44 L170.6 301.53 L171.1 301.61 L171.6 301.68 L172.1 301.74 L172.6 301.8 L173.1 301.85 L173.6 301.9 L174.1 301.94 L174.6 301.98 L175.1 302.02 L175.6 302.05 L176.1 302.08 L176.6 302.1 L177.1 302.13 L177.6 302.15 L178.1 302.16 L178.6 302.18 L179.1 302.19 L179.6 302.21 L180.1 302.22 L180.6 302.23 L181.1 302.24 L181.6 302.24 L182.1 302.25 L182.6 302.26 L183.1 302.26 L183.6 302.27 L184.1 302.27 L184.6 302.28 L185.1 302.28 L185.6 302.28 L186.1 302.28 L186.6 302.29 L187.1 302.29 L187.6 302.29 L188.1 302.29 L188.6 302.29 L189.1 302.29 L189.6 302.29 L190.1 302.3 L190.6 302.3 L191.1 302.3 L191.6 302.3 L192.1 302.3 L192.6 302.3 L193.1 302.3 L193.6 302.3 L194.1 302.3 L194.6 302.3 L195.1 302.3 L195.6 302.3 L196.1 302.3 L196.6 302.3 L197.1 302.3 L197.6 302.3 L198.1 302.3 L198.6 302.3 L199.1 302.3 L199.6 302.3" fill="none" stroke="#2a2ab0" stroke-width="1.1"/>
<path d="M95.1 301.39 L95.6 301.37 L96.1 301.35 L96.6 301.33 L97.1 301.32 L97.6 301.3 L98.1 301.28 L98.6 301.25 L99.1 301.23 L99.6 301.21 L100.1 301.19 L100.6 301.16 L101.1 301.14 L101.6 301.11 L102.1 301.08 L102.6 301.05 L103.1 301.02 L103.6 300.99 L104.1 300.95 L104.6 300.92 L105.1 300.88 L105.6 300.84 L106.1 300.79 L106.6 300.75 L107.1 300.7 L107.6 300.65 L108.1 300.6 L108.6 300.54 L109.1 300.48 L109.6 300.42 L110.1 300.36 L110.6 300.29 L111.1 300.21 L111.6 300.13 L112.1 300.05 L112.6 299.96 L113.1 299.87 L113.6 299.77 L114.1 299.67 L114.6 299.55 L115.1 299.44 L115.6 299.31 L116.1 299.18 L116.6 299.05 L117.1 298.9 L117.6 298.75 L118.1 298.59 L118.6 298.42 L119.1 298.24 L119.6 298.05 L120.1 297.86 L120.6 297.65 L121.1 297.43 L121.6 297.2 L122.1 296.97 L122.6 296.72 L123.1 296.46 L123.6 296.19 L124.1 295.91 L124.6 295.61 L125.1 295.31 L125.6 294.99 L126.1 294.66 L126.6 294.32 L127.1 293.96 L127.6 293.6 L128.1 293.22 L128.6 292.83 L129.1 292.43 L129.6 292.01 L130.1 291.59 L130.6 291.15 L131.1 290.7 L131.6 290.25 L132.1 289.78 L132.6 289.3 L133.1 288.82 L133.6 288.33 L134.1 287.82 L134.6 287.32 L135.1 286.8 L135.6 286.28 L136.1 285.76 L136.6 285.23 L137.1 284.7 L137.6 284.17 L138.1 283.65 L138.6 283.12 L139.1 282.59 L139.6 282.07 L140.1 281.56 L140.6 281.05 L141.1 280.56 L141.6 280.07 L142.1 279.6 L142.6 279.14 L143.1 278.7 L143.6 278.28 L144.1 277.88 L144.6 277.5 L145.1 277.14 L145.6 276.81 L146.1 276.51 L146.6 276.24 L147.1 276 L147.6 275.8 L148.1 275.63 L148.6 275.49 L149.1 275.39 L149.6 275.33 L150.1 275.3 L150.6 275.31 L151.1 275.36 L151.6 275.45 L152.1 275.57 L152.6 275.73 L153.1 275.92 L153.6 276.14 L154.1 276.4 L154.6 276.69 L155.1 277.01 L155.6 277.35 L156.1 277.72 L156.6 278.11 L157.1 278.53 L157.6 278.96 L158.1 279.41 L158.6 279.88 L159.1 280.36 L159.6 280.85 L160.1 281.36 L160.6 281.87 L161.1 282.38 L161.6 282.91 L162.1 283.43 L162.6 283.96 L163.1 284.49 L163.6 285.02 L164.1 285.55 L164.6 286.07 L165.1 286.59 L165.6 287.11 L166.1 287.62 L166.6 288.13 L167.1 288.62 L167.6 289.11 L168.1 289.59 L168.6 290.06 L169.1 290.52 L169.6 290.97 L170.1 291.41 L170.6 291.84 L171.1 292.26 L171.6 292.67 L172.1 293.06 L172.6 293.45 L173.1 293.82 L173.6 294.18 L174.1 294.52 L174.6 294.86 L175.1 295.18 L175.6 295.49 L176.1 295.79 L176.6 296.08 L177.1 296.35 L177.6 296.62 L178.1 296.87 L178.6 297.11 L179.1 297.34 L179.6 297.56 L180.1 297.77 L180.6 297.97 L181.1 298.17 L181.6 298.35 L182.1 298.52 L182.6 298.69 L183.1 298.84 L183.6 298.99 L184.1 299.13 L184.6 299.26 L185.1 299.39 L185.6 299.51 L186.1 299.62 L186.6 299.73 L187.1 299.83 L187.6 299.92 L188.1 300.01 L188.6 300.1 L189.1 300.18 L189.6 300.26 L190.1 300.33 L190.6 300.4 L191.1 300.46 L191.6 300.52 L192.1 300.58 L192.6 300.63 L193.1 300.68 L193.6 300.73 L194.1 300.78 L194.6 300.82 L195.1 300.86 L195.6 300.9 L196.1 300.94 L196.6 300.97 L197.1 301.01 L197.6 301.04 L198.1 301.07 L198.6 301.1 L199.1 301.13 L199.6 301.15 L200.1 301.18 L200.6 301.2 L201.1 301.22 L201.6 301.25 L202.1 301.27 L202.6 301.29 L203.1 301.31 L203.6 301.33 L204.1 301.35 L204.6 301.36 L205.1 301.38 L205.6 301.4 L206.1 301.41 L206.6 301.43 L207.1 301.44 L207.6 301.46 L208.1 301.47 L208.6 301.48 L209.1 301.5 L209.6 301.51 L210.1 301.52 L210.6 301.54 L211.1 301.55 L211.6 301.56 L212.1 301.57 L212.6 301.58 L213.1 301.59 L213.6 301.6 L214.1 301.61 L214.6 301.62 L214.6 302.3 L95.1 302.3 Z" fill="#c780ff" fill-opacity="0.78"/>
<path d="M95.1 301.39 L95.6 301.37 L96.1 301.35 L96.6 301.33 L97.1 301.32 L97.6 301.3 L98.1 301.28 L98.6 301.25 L99.1 301.23 L99.6 301.21 L100.1 301.19 L100.6 301.16 L101.1 301.14 L101.6 301.11 L102.1 301.08 L102.6 301.05 L103.1 301.02 L103.6 300.99 L104.1 300.95 L104.6 300.92 L105.1 300.88 L105.6 300.84 L106.1 300.79 L106.6 300.75 L107.1 300.7 L107.6 300.65 L108.1 300.6 L108.6 300.54 L109.1 300.48 L109.6 300.42 L110.1 300.36 L110.6 300.29 L111.1 300.21 L111.6 300.13 L112.1 300.05 L112.6 299.96 L113.1 299.87 L113.6 299.77 L114.1 299.67 L114.6 299.55 L115.1 299.44 L115.6 299.31 L116.1 299.18 L116.6 299.05 L117.1 298.9 L117.6 298.75 L118.1 298.59 L118.6 298.42 L119.1 298.24 L119.6 298.05 L120.1 297.86 L120.6 297.65 L121.1 297.43 L121.6 297.2 L122.1 296.97 L122.6 296.72 L123.1 296.46 L123.6 296.19 L124.1 295.91 L124.6 295.61 L125.1 295.31 L125.6 294.99 L126.1 294.66 L126.6 294.32 L127.1 293.96 L127.6 293.6 L128.1 293.22 L128.6 292.83 L129.1 292.43 L129.6 292.01 L130.1 291.59 L130.6 291.15 L131.1 290.7 L131.6 290.25 L132.1 289.78 L132.6 289.3 L133.1 288.82 L133.6 288.33 L134.1 287.82 L134.6 287.32 L135.1 286.8 L135.6 286.28 L136.1 285.76 L136.6 285.23 L137.1 284.7 L137.6 284.17 L138.1 283.65 L138.6 283.12 L139.1 282.59 L139.6 282.07 L140.1 281.56 L140.6 281.05 L141.1 280.56 L141.6 280.07 L142.1 279.6 L142.6 279.14 L143.1 278.7 L143.6 278.28 L144.1 277.88 L144.6 277.5 L145.1 277.14 L145.6 276.81 L146.1 276.51 L146.6 276.24 L147.1 276 L147.6 275.8 L148.1 275.63 L148.6 275.49 L149.1 275.39 L149.6 275.33 L150.1 275.3 L150.6 275.31 L151.1 275.36 L151.6 275.45 L152.1 275.57 L152.6 275.73 L153.1 275.92 L153.6 276.14 L154.1 276.4 L154.6 276.69 L155.1 277.01 L155.6 277.35 L156.1 277.72 L156.6 278.11 L157.1 278.53 L157.6 278.96 L158.1 279.41 L158.6 279.88 L159.1 280.36 L159.6 280.85 L160.1 281.36 L160.6 281.87 L161.1 282.38 L161.6 282.91 L162.1 283.43 L162.6 283.96 L163.1 284.49 L163.6 285.02 L164.1 285.55 L164.6 286.07 L165.1 286.59 L165.6 287.11 L166.1 287.62 L166.6 288.13 L167.1 288.62 L167.6 289.11 L168.1 289.59 L168.6 290.06 L169.1 290.52 L169.6 290.97 L170.1 291.41 L170.6 291.84 L171.1 292.26 L171.6 292.67 L172.1 293.06 L172.6 293.45 L173.1 293.82 L173.6 294.18 L174.1 294.52 L174.6 294.86 L175.1 295.18 L175.6 295.49 L176.1 295.79 L176.6 296.08 L177.1 296.35 L177.6 296.62 L178.1 296.87 L178.6 297.11 L179.1 297.34 L179.6 297.56 L180.1 297.77 L180.6 297.97 L181.1 298.17 L181.6 298.35 L182.1 298.52 L182.6 298.69 L183.1 298.84 L183.6 298.99 L184.1 299.13 L184.6 299.26 L185.1 299.39 L185.6 299.51 L186.1 299.62 L186.6 299.73 L187.1 299.83 L187.6 299.92 L188.1 300.01 L188.6 300.1 L189.1 300.18 L189.6 300.26 L190.1 300.33 L190.6 300.4 L191.1 300.46 L191.6 300.52 L192.1 300.58 L192.6 300.63 L193.1 300.68 L193.6 300.73 L194.1 300.78 L194.6 300.82 L195.1 300.86 L195.6 300.9 L196.1 300.94 L196.6 300.97 L197.1 301.01 L197.6 301.04 L198.1 301.07 L198.6 301.1 L199.1 301.13 L199.6 301.15 L200.1 301.18 L200.6 301.2 L201.1 301.22 L201.6 301.25 L202.1 301.27 L202.6 301.29 L203.1 301.31 L203.6 301.33 L204.1 301.35 L204.6 301.36 L205.1 301.38 L205.6 301.4 L206.1 301.41 L206.6 301.43 L207.1 301.44 L207.6 301.46 L208.1 301.47 L208.6 301.48 L209.1 301.5 L209.6 301.51 L210.1 301.52 L210.6 301.54 L211.1 301.55 L211.6 301.56 L212.1 301.57 L212.6 301.58 L213.1 301.59 L213.6 301.6 L214.1 301.61 L214.6 301.62" fill="none" stroke="#9020b0" stroke-width="1"/>
<path d="M50.1 302.3 L50.6 302.3 L51.1 302.3 L51.6 302.3 L52.1 302.3 L52.6 302.3 L53.1 302.3 L53.6 302.3 L54.1 302.3 L54.6 302.3 L55.1 302.3 L55.6 302.3 L56.1 302.3 L56.6 302.3 L57.1 302.3 L57.6 302.3 L58.1 302.3 L58.6 302.3 L59.1 302.3 L59.6 302.3 L60.1 302.3 L60.6 302.3 L61.1 302.29 L61.6 302.29 L62.1 302.29 L62.6 302.29 L63.1 302.29 L63.6 302.29 L64.1 302.29 L64.6 302.28 L65.1 302.28 L65.6 302.28 L66.1 302.27 L66.6 302.27 L67.1 302.26 L67.6 302.26 L68.1 302.25 L68.6 302.24 L69.1 302.23 L69.6 302.22 L70.1 302.21 L70.6 302.2 L71.1 302.19 L71.6 302.17 L72.1 302.15 L72.6 302.13 L73.1 302.11 L73.6 302.08 L74.1 302.06 L74.6 302.02 L75.1 301.99 L75.6 301.95 L76.1 301.91 L76.6 301.86 L77.1 301.81 L77.6 301.76 L78.1 301.7 L78.6 301.63 L79.1 301.56 L79.6 301.48 L80.1 301.4 L80.6 301.31 L81.1 301.21 L81.6 301.11 L82.1 301 L82.6 300.88 L83.1 300.75 L83.6 300.62 L84.1 300.48 L84.6 300.33 L85.1 300.17 L85.6 300 L86.1 299.83 L86.6 299.65 L87.1 299.46 L87.6 299.27 L88.1 299.07 L88.6 298.86 L89.1 298.65 L89.6 298.43 L90.1 298.21 L90.6 297.98 L91.1 297.75 L91.6 297.52 L92.1 297.29 L92.6 297.05 L93.1 296.82 L93.6 296.58 L94.1 296.35 L94.6 296.13 L95.1 295.91 L95.6 295.69 L96.1 295.48 L96.6 295.28 L97.1 295.09 L97.6 294.9 L98.1 294.73 L98.6 294.57 L99.1 294.43 L99.6 294.29 L100.1 294.17 L100.6 294.07 L101.1 293.98 L101.6 293.91 L102.1 293.86 L102.6 293.82 L103.1 293.8 L103.6 293.8 L104.1 293.82 L104.6 293.85 L105.1 293.9 L105.6 293.97 L106.1 294.05 L106.6 294.15 L107.1 294.27 L107.6 294.4 L108.1 294.54 L108.6 294.7 L109.1 294.87 L109.6 295.05 L110.1 295.24 L110.6 295.44 L111.1 295.65 L111.6 295.86 L112.1 296.08 L112.6 296.31 L113.1 296.54 L113.6 296.77 L114.1 297 L114.6 297.24 L115.1 297.47 L115.6 297.7 L116.1 297.94 L116.6 298.16 L117.1 298.39 L117.6 298.61 L118.1 298.82 L118.6 299.03 L119.1 299.23 L119.6 299.43 L120.1 299.62 L120.6 299.8 L121.1 299.97 L121.6 300.14 L122.1 300.3 L122.6 300.45 L123.1 300.59 L123.6 300.73 L124.1 300.85 L124.6 300.97 L125.1 301.09 L125.6 301.19 L126.1 301.29 L126.6 301.38 L127.1 301.47 L127.6 301.54 L128.1 301.62 L128.6 301.68 L129.1 301.75 L129.6 301.8 L130.1 301.85 L130.6 301.9 L131.1 301.94 L131.6 301.98 L132.1 302.02 L132.6 302.05 L133.1 302.08 L133.6 302.1 L134.1 302.13 L134.6 302.15 L135.1 302.17 L135.6 302.18 L136.1 302.2 L136.6 302.21 L137.1 302.22 L137.6 302.23 L138.1 302.24 L138.6 302.25 L139.1 302.26 L139.6 302.26 L140.1 302.27 L140.6 302.27 L141.1 302.28 L141.6 302.28 L142.1 302.28 L142.6 302.29 L143.1 302.29 L143.6 302.29 L144.1 302.29 L144.6 302.29 L145.1 302.29 L145.6 302.29 L146.1 302.3 L146.6 302.3 L147.1 302.3 L147.6 302.3 L148.1 302.3 L148.6 302.3 L149.1 302.3 L149.6 302.3 L150.1 302.3 L150.6 302.3 L151.1 302.3 L151.6 302.3 L152.1 302.3 L152.6 302.3 L153.1 302.3 L153.6 302.3 L154.1 302.3 L154.6 302.3 L155.1 302.3 L155.6 302.3 L156.1 302.3 L156.6 302.3 L157.1 302.3 L157.6 302.3 L158.1 302.3 L158.6 302.3 L159.1 302.3 L159.6 302.3 L159.6 302.3 L50.1 302.3 Z" fill="#f19b48"/>
<path d="M50.1 302.3 L50.6 302.3 L51.1 302.3 L51.6 302.3 L52.1 302.3 L52.6 302.3 L53.1 302.3 L53.6 302.3 L54.1 302.3 L54.6 302.3 L55.1 302.3 L55.6 302.3 L56.1 302.3 L56.6 302.3 L57.1 302.3 L57.6 302.3 L58.1 302.3 L58.6 302.3 L59.1 302.3 L59.6 302.3 L60.1 302.3 L60.6 302.3 L61.1 302.29 L61.6 302.29 L62.1 302.29 L62.6 302.29 L63.1 302.29 L63.6 302.29 L64.1 302.29 L64.6 302.28 L65.1 302.28 L65.6 302.28 L66.1 302.27 L66.6 302.27 L67.1 302.26 L67.6 302.26 L68.1 302.25 L68.6 302.24 L69.1 302.23 L69.6 302.22 L70.1 302.21 L70.6 302.2 L71.1 302.19 L71.6 302.17 L72.1 302.15 L72.6 302.13 L73.1 302.11 L73.6 302.08 L74.1 302.06 L74.6 302.02 L75.1 301.99 L75.6 301.95 L76.1 301.91 L76.6 301.86 L77.1 301.81 L77.6 301.76 L78.1 301.7 L78.6 301.63 L79.1 301.56 L79.6 301.48 L80.1 301.4 L80.6 301.31 L81.1 301.21 L81.6 301.11 L82.1 301 L82.6 300.88 L83.1 300.75 L83.6 300.62 L84.1 300.48 L84.6 300.33 L85.1 300.17 L85.6 300 L86.1 299.83 L86.6 299.65 L87.1 299.46 L87.6 299.27 L88.1 299.07 L88.6 298.86 L89.1 298.65 L89.6 298.43 L90.1 298.21 L90.6 297.98 L91.1 297.75 L91.6 297.52 L92.1 297.29 L92.6 297.05 L93.1 296.82 L93.6 296.58 L94.1 296.35 L94.6 296.13 L95.1 295.91 L95.6 295.69 L96.1 295.48 L96.6 295.28 L97.1 295.09 L97.6 294.9 L98.1 294.73 L98.6 294.57 L99.1 294.43 L99.6 294.29 L100.1 294.17 L100.6 294.07 L101.1 293.98 L101.6 293.91 L102.1 293.86 L102.6 293.82 L103.1 293.8 L103.6 293.8 L104.1 293.82 L104.6 293.85 L105.1 293.9 L105.6 293.97 L106.1 294.05 L106.6 294.15 L107.1 294.27 L107.6 294.4 L108.1 294.54 L108.6 294.7 L109.1 294.87 L109.6 295.05 L110.1 295.24 L110.6 295.44 L111.1 295.65 L111.6 295.86 L112.1 296.08 L112.6 296.31 L113.1 296.54 L113.6 296.77 L114.1 297 L114.6 297.24 L115.1 297.47 L115.6 297.7 L116.1 297.94 L116.6 298.16 L117.1 298.39 L117.6 298.61 L118.1 298.82 L118.6 299.03 L119.1 299.23 L119.6 299.43 L120.1 299.62 L120.6 299.8 L121.1 299.97 L121.6 300.14 L122.1 300.3 L122.6 300.45 L123.1 300.59 L123.6 300.73 L124.1 300.85 L124.6 300.97 L125.1 301.09 L125.6 301.19 L126.1 301.29 L126.6 301.38 L127.1 301.47 L127.6 301.54 L128.1 301.62 L128.6 301.68 L129.1 301.75 L129.6 301.8 L130.1 301.85 L130.6 301.9 L131.1 301.94 L131.6 301.98 L132.1 302.02 L132.6 302.05 L133.1 302.08 L133.6 302.1 L134.1 302.13 L134.6 302.15 L135.1 302.17 L135.6 302.18 L136.1 302.2 L136.6 302.21 L137.1 302.22 L137.6 302.23 L138.1 302.24 L138.6 302.25 L139.1 302.26 L139.6 302.26 L140.1 302.27 L140.6 302.27 L141.1 302.28 L141.6 302.28 L142.1 302.28 L142.6 302.29 L143.1 302.29 L143.6 302.29 L144.1 302.29 L144.6 302.29 L145.1 302.29 L145.6 302.29 L146.1 302.3 L146.6 302.3 L147.1 302.3 L147.6 302.3 L148.1 302.3 L148.6 302.3 L149.1 302.3 L149.6 302.3 L150.1 302.3 L150.6 302.3 L151.1 302.3 L151.6 302.3 L152.1 302.3 L152.6 302.3 L153.1 302.3 L153.6 302.3 L154.1 302.3 L154.6 302.3 L155.1 302.3 L155.6 302.3 L156.1 302.3 L156.6 302.3 L157.1 302.3 L157.6 302.3 L158.1 302.3 L158.6 302.3 L159.1 302.3 L159.6 302.3" fill="none" stroke="#f08020" stroke-width="1"/>
<line x1="35.5" y1="302.3" x2="220.4" y2="302.3" stroke="#f08020" stroke-width="1"/>
<path d="M36.1 302.07 L36.6 302.07 L37.1 302.07 L37.6 302.07 L38.1 302.07 L38.6 302.06 L39.1 302.06 L39.6 302.06 L40.1 302.06 L40.6 302.06 L41.1 302.05 L41.6 302.05 L42.1 302.05 L42.6 302.05 L43.1 302.04 L43.6 302.04 L44.1 302.04 L44.6 302.04 L45.1 302.04 L45.6 302.03 L46.1 302.03 L46.6 302.03 L47.1 302.03 L47.6 302.02 L48.1 302.02 L48.6 302.02 L49.1 302.01 L49.6 302.01 L50.1 302.01 L50.6 302.01 L51.1 302 L51.6 302 L52.1 302 L52.6 301.99 L53.1 301.99 L53.6 301.99 L54.1 301.98 L54.6 301.98 L55.1 301.98 L55.6 301.97 L56.1 301.97 L56.6 301.97 L57.1 301.96 L57.6 301.96 L58.1 301.95 L58.6 301.95 L59.1 301.94 L59.6 301.94 L60.1 301.93 L60.6 301.93 L61.1 301.92 L61.6 301.92 L62.1 301.91 L62.6 301.9 L63.1 301.9 L63.6 301.89 L64.1 301.88 L64.6 301.87 L65.1 301.86 L65.6 301.85 L66.1 301.84 L66.6 301.82 L67.1 301.81 L67.6 301.79 L68.1 301.78 L68.6 301.76 L69.1 301.73 L69.6 301.71 L70.1 301.68 L70.6 301.65 L71.1 301.62 L71.6 301.59 L72.1 301.55 L72.6 301.5 L73.1 301.45 L73.6 301.4 L74.1 301.34 L74.6 301.27 L75.1 301.2 L75.6 301.12 L76.1 301.03 L76.6 300.94 L77.1 300.83 L77.6 300.72 L78.1 300.59 L78.6 300.45 L79.1 300.3 L79.6 300.14 L80.1 299.96 L80.6 299.77 L81.1 299.56 L81.6 299.33 L82.1 299.09 L82.6 298.83 L83.1 298.54 L83.6 298.24 L84.1 297.91 L84.6 297.56 L85.1 297.18 L85.6 296.78 L86.1 296.35 L86.6 295.89 L87.1 295.4 L87.6 294.89 L88.1 294.34 L88.6 293.76 L89.1 293.15 L89.6 292.51 L90.1 291.83 L90.6 291.11 L91.1 290.36 L91.6 289.57 L92.1 288.74 L92.6 287.88 L93.1 286.97 L93.6 286.03 L94.1 285.05 L94.6 284.03 L95.1 282.97 L95.6 281.86 L96.1 280.72 L96.6 279.54 L97.1 278.31 L97.6 277.05 L98.1 275.75 L98.6 274.4 L99.1 273.02 L99.6 271.6 L100.1 270.14 L100.6 268.64 L101.1 267.11 L101.6 265.53 L102.1 263.93 L102.6 262.29 L103.1 260.61 L103.6 258.91 L104.1 257.18 L104.6 255.41 L105.1 253.62 L105.6 251.81 L106.1 249.97 L106.6 248.11 L107.1 246.23 L107.6 244.34 L108.1 242.43 L108.6 240.51 L109.1 238.58 L109.6 236.65 L110.1 234.72 L110.6 232.78 L111.1 230.86 L111.6 228.94 L112.1 227.03 L112.6 225.14 L113.1 223.27 L113.6 221.42 L114.1 219.61 L114.6 217.82 L115.1 216.07 L115.6 214.36 L116.1 212.7 L116.6 211.09 L117.1 209.53 L117.6 208.03 L118.1 206.59 L118.6 205.22 L119.1 203.91 L119.6 202.68 L120.1 201.53 L120.6 200.45 L121.1 199.46 L121.6 198.56 L122.1 197.74 L122.6 197.01 L123.1 196.38 L123.6 195.84 L124.1 195.39 L124.6 195.04 L125.1 194.79 L125.6 194.64 L126.1 194.58 L126.6 194.62 L127.1 194.75 L127.6 194.99 L128.1 195.31 L128.6 195.72 L129.1 196.23 L129.6 196.82 L130.1 197.5 L130.6 198.25 L131.1 199.09 L131.6 200 L132.1 200.98 L132.6 202.03 L133.1 203.14 L133.6 204.31 L134.1 205.53 L134.6 206.81 L135.1 208.13 L135.6 209.49 L136.1 210.89 L136.6 212.33 L137.1 213.79 L137.6 215.28 L138.1 216.78 L138.6 218.31 L139.1 219.85 L139.6 221.39 L140.1 222.95 L140.6 224.51 L141.1 226.06 L141.6 227.62 L142.1 229.17 L142.6 230.71 L143.1 232.25 L143.6 233.77 L144.1 235.29 L144.6 236.79 L145.1 238.28 L145.6 239.75 L146.1 241.22 L146.6 242.66 L147.1 244.09 L147.6 245.51 L148.1 246.91 L148.6 248.3 L149.1 249.67 L149.6 251.03 L150.1 252.38 L150.6 253.71 L151.1 255.02 L151.6 256.32 L152.1 257.61 L152.6 258.88 L153.1 260.13 L153.6 261.37 L154.1 262.59 L154.6 263.8 L155.1 264.98 L155.6 266.15 L156.1 267.3 L156.6 268.43 L157.1 269.54 L157.6 270.63 L158.1 271.69 L158.6 272.74 L159.1 273.76 L159.6 274.77 L160.1 275.75 L160.6 276.7 L161.1 277.63 L161.6 278.54 L162.1 279.43 L162.6 280.29 L163.1 281.14 L163.6 281.95 L164.1 282.75 L164.6 283.52 L165.1 284.27 L165.6 284.99 L166.1 285.7 L166.6 286.38 L167.1 287.04 L167.6 287.68 L168.1 288.29 L168.6 288.89 L169.1 289.46 L169.6 290.02 L170.1 290.56 L170.6 291.07 L171.1 291.57 L171.6 292.05 L172.1 292.51 L172.6 292.95 L173.1 293.37 L173.6 293.78 L174.1 294.17 L174.6 294.54 L175.1 294.9 L175.6 295.24 L176.1 295.57 L176.6 295.88 L177.1 296.18 L177.6 296.46 L178.1 296.73 L178.6 296.99 L179.1 297.24 L179.6 297.47 L180.1 297.69 L180.6 297.9 L181.1 298.1 L181.6 298.29 L182.1 298.47 L182.6 298.64 L183.1 298.8 L183.6 298.96 L184.1 299.1 L184.6 299.24 L185.1 299.37 L185.6 299.49 L186.1 299.61 L186.6 299.71 L187.1 299.82 L187.6 299.91 L188.1 300.01 L188.6 300.09 L189.1 300.17 L189.6 300.25 L190.1 300.32 L190.6 300.39 L191.1 300.46 L191.6 300.52 L192.1 300.58 L192.6 300.63 L193.1 300.68 L193.6 300.73 L194.1 300.78 L194.6 300.82 L195.1 300.86 L195.6 300.9 L196.1 300.94 L196.6 300.97 L197.1 301.01 L197.6 301.04 L198.1 301.07 L198.6 301.1 L199.1 301.13 L199.6 301.15 L200.1 301.18 L200.6 301.2 L201.1 301.22 L201.6 301.25 L202.1 301.27 L202.6 301.29 L203.1 301.31 L203.6 301.33 L204.1 301.34 L204.6 301.36 L205.1 301.38 L205.6 301.4 L206.1 301.41 L206.6 301.43 L207.1 301.44 L207.6 301.46 L208.1 301.47 L208.6 301.48 L209.1 301.5 L209.6 301.51 L210.1 301.52 L210.6 301.54 L211.1 301.55 L211.6 301.56 L212.1 301.57 L212.6 301.58 L213.1 301.59 L213.6 301.6 L214.1 301.61 L214.6 301.62 L215.1 301.63 L215.6 301.64 L216.1 301.65 L216.6 301.66 L217.1 301.67 L217.6 301.68 L218.1 301.69 L218.6 301.7 L219.1 301.7 L219.6 301.71" fill="none" stroke="#111" stroke-width="1.2"/>
<rect x="35.5" y="182.6" width="184.9" height="134.4" fill="none" stroke="#1a1a1a" stroke-width="1.2"/>
<path d="M53.99 317v3M90.97 317v3M127.95 317v3M164.93 317v3M201.91 317v3" stroke="#1a1a1a" stroke-width="1"/>
<path d="M72.48 317v2M109.46 317v2M146.44 317v2M183.42 317v2" stroke="#1a1a1a" stroke-width="1"/>
<text x="53.99" y="328.9" font-size="9.5" text-anchor="middle" >528</text>
<text x="90.97" y="328.9" font-size="9.5" text-anchor="middle" >530</text>
<text x="127.95" y="328.9" font-size="9.5" text-anchor="middle" >532</text>
<text x="164.93" y="328.9" font-size="9.5" text-anchor="middle" >534</text>
<text x="201.91" y="328.9" font-size="9.5" text-anchor="middle" >536</text>
<text x="127.95" y="344.9" font-size="10" text-anchor="middle" >Binding Energy (eV)</text>
<text transform="translate(21.6,251.2) rotate(-90)" font-size="10" text-anchor="middle">Intensity (a.u.)</text>
<g font-size="10">
<text x="140.7" y="200.2">O 1<tspan font-style="italic">s</tspan></text>
<text x="86.8" y="215.2" text-anchor="middle">C-O</text>
<text x="91" y="225.6" text-anchor="middle">531.8 eV</text>
<text x="70.7" y="277.2" text-anchor="middle">M-O</text>
<text x="73" y="287.3" text-anchor="middle">530.2 eV</text>
<text x="195.3" y="279.3" text-anchor="middle">O-M-O</text>
<text x="197.2" y="290.5" text-anchor="middle">533.8 eV</text>
</g>
<rect x="301.4" y="189.5" width="103.2" height="74.1" fill="none" stroke="#1a1a1a" stroke-width="1.2"/>
<path d="M302.07 261.52 L303.14 258.38 L304.22 253.02 L305.1 246.61 L305.89 240.46 L306.67 230.92 L307.36 221.5 L308.44 208.81 L309.51 200.44 L310.49 201.49 L311.57 204.63 L312.65 209.99 L313.73 215.22 L314.81 221.76 L315.79 227.78 L316.86 232.88 L317.94 237.33 L319.02 240.33 L320 242.56 L322.06 245.3 L324.21 247.79 L326.27 250.54 L328.43 253.02 L330 254.46 L331.56 255.24 L333.72 255.38 L335.78 255.64 L337.84 256.81 L339.99 258.25 L342.15 259.04 L344.4 259.43 L347.83 258.78 L350.67 258.12 L353.61 257.6 L357.93 257.47 L362.24 257.34 L365.86 257.08 L369.39 256.81 L373.02 257.34 L376.64 257.86 L381.64 257.73 L386.64 257.6 L390.27 257.86 L393.89 258.25 L398.2 258.51 L402.52 258.78" fill="none" stroke="#f02828" stroke-width="1.1" stroke-linejoin="round"/>
<rect x="301.17" y="260.62" width="1.8" height="1.8" fill="#e02020"/>
<rect x="302.24" y="257.48" width="1.8" height="1.8" fill="#e02020"/>
<rect x="303.32" y="252.12" width="1.8" height="1.8" fill="#e02020"/>
<rect x="304.2" y="245.71" width="1.8" height="1.8" fill="#e02020"/>
<rect x="304.99" y="239.56" width="1.8" height="1.8" fill="#e02020"/>
<rect x="305.77" y="230.02" width="1.8" height="1.8" fill="#e02020"/>
<rect x="306.46" y="220.6" width="1.8" height="1.8" fill="#e02020"/>
<rect x="307.54" y="207.91" width="1.8" height="1.8" fill="#e02020"/>
<rect x="308.61" y="199.54" width="1.8" height="1.8" fill="#e02020"/>
<rect x="309.59" y="200.59" width="1.8" height="1.8" fill="#e02020"/>
<rect x="310.67" y="203.73" width="1.8" height="1.8" fill="#e02020"/>
<rect x="311.75" y="209.09" width="1.8" height="1.8" fill="#e02020"/>
<rect x="312.83" y="214.32" width="1.8" height="1.8" fill="#e02020"/>
<rect x="313.91" y="220.86" width="1.8" height="1.8" fill="#e02020"/>
<rect x="314.89" y="226.88" width="1.8" height="1.8" fill="#e02020"/>
<rect x="315.96" y="231.98" width="1.8" height="1.8" fill="#e02020"/>
<rect x="317.04" y="236.43" width="1.8" height="1.8" fill="#e02020"/>
<rect x="318.12" y="239.43" width="1.8" height="1.8" fill="#e02020"/>
<rect x="319.1" y="241.66" width="1.8" height="1.8" fill="#e02020"/>
<rect x="321.16" y="244.4" width="1.8" height="1.8" fill="#e02020"/>
<rect x="323.31" y="246.89" width="1.8" height="1.8" fill="#e02020"/>
<rect x="325.37" y="249.64" width="1.8" height="1.8" fill="#e02020"/>
<rect x="327.53" y="252.12" width="1.8" height="1.8" fill="#e02020"/>
<rect x="329.1" y="253.56" width="1.8" height="1.8" fill="#e02020"/>
<rect x="330.66" y="254.34" width="1.8" height="1.8" fill="#e02020"/>
<rect x="332.82" y="254.48" width="1.8" height="1.8" fill="#e02020"/>
<rect x="334.88" y="254.74" width="1.8" height="1.8" fill="#e02020"/>
<rect x="336.94" y="255.91" width="1.8" height="1.8" fill="#e02020"/>
<rect x="339.09" y="257.35" width="1.8" height="1.8" fill="#e02020"/>
<rect x="341.25" y="258.14" width="1.8" height="1.8" fill="#e02020"/>
<rect x="343.5" y="258.53" width="1.8" height="1.8" fill="#e02020"/>
<rect x="346.93" y="257.88" width="1.8" height="1.8" fill="#e02020"/>
<rect x="349.77" y="257.22" width="1.8" height="1.8" fill="#e02020"/>
<rect x="352.71" y="256.7" width="1.8" height="1.8" fill="#e02020"/>
<rect x="357.03" y="256.57" width="1.8" height="1.8" fill="#e02020"/>
<rect x="361.34" y="256.44" width="1.8" height="1.8" fill="#e02020"/>
<rect x="364.96" y="256.18" width="1.8" height="1.8" fill="#e02020"/>
<rect x="368.49" y="255.91" width="1.8" height="1.8" fill="#e02020"/>
<rect x="372.12" y="256.44" width="1.8" height="1.8" fill="#e02020"/>
<rect x="375.74" y="256.96" width="1.8" height="1.8" fill="#e02020"/>
<rect x="380.74" y="256.83" width="1.8" height="1.8" fill="#e02020"/>
<rect x="385.74" y="256.7" width="1.8" height="1.8" fill="#e02020"/>
<rect x="389.37" y="256.96" width="1.8" height="1.8" fill="#e02020"/>
<rect x="392.99" y="257.35" width="1.8" height="1.8" fill="#e02020"/>
<rect x="397.3" y="257.61" width="1.8" height="1.8" fill="#e02020"/>
<rect x="401.62" y="257.88" width="1.8" height="1.8" fill="#e02020"/>
<path d="M320 263.6v2M339.6 263.6v2M359.2 263.6v2M378.8 263.6v2M398.4 263.6v2" stroke="#1a1a1a" stroke-width="1"/>
<path d="M310.2 263.6v1.5M329.8 263.6v1.5M349.4 263.6v1.5M369 263.6v1.5M388.6 263.6v1.5" stroke="#1a1a1a" stroke-width="1"/>
<path d="M301.4 261h-2M301.4 247.92h-2M301.4 234.84h-2M301.4 221.76h-2M301.4 208.68h-2M301.4 195.6h-2" stroke="#1a1a1a" stroke-width="1"/>
<path d="M301.4 254.46h-1.5M301.4 241.38h-1.5M301.4 228.3h-1.5M301.4 215.22h-1.5M301.4 202.14h-1.5" stroke="#1a1a1a" stroke-width="1"/>
<text x="320" y="271.5" font-size="6.6" text-anchor="middle" >20</text>
<text x="339.6" y="271.5" font-size="6.6" text-anchor="middle" >40</text>
<text x="359.2" y="271.5" font-size="6.6" text-anchor="middle" >60</text>
<text x="378.8" y="271.5" font-size="6.6" text-anchor="middle" >80</text>
<text x="398.4" y="271.5" font-size="6.6" text-anchor="middle" >100</text>
<text x="298.9" y="263.2" font-size="6.6" text-anchor="end" >0.00</text>
<text x="298.9" y="250.12" font-size="6.6" text-anchor="end" >0.01</text>
<text x="298.9" y="237.04" font-size="6.6" text-anchor="end" >0.02</text>
<text x="298.9" y="223.96" font-size="6.6" text-anchor="end" >0.03</text>
<text x="298.9" y="210.88" font-size="6.6" text-anchor="end" >0.04</text>
<text x="298.9" y="197.8" font-size="6.6" text-anchor="end" >0.05</text>
<text x="353" y="278.9" font-size="7" text-anchor="middle" >Pore diameter (nm)</text>
<text transform="translate(281.8,270) rotate(-90)" font-size="8.3" text-anchor="start">dV/dW (cm<tspan font-size="6.3" dy="-3.5">3</tspan><tspan dy="3.5"> g</tspan><tspan font-size="6.3" dy="-3.5">−1</tspan><tspan dy="3.5"> A</tspan><tspan font-size="6.3" dy="-3.5">−1</tspan><tspan dy="3.5">)</tspan></text>
<path d="M284.56 292.87 L288.1 291.84 L293.34 291.3 L295.5 291.05 L297.65 290.84 L299.81 290.66 L302.12 290.48 L304.89 290.27 L307.2 290.12 L309.36 289.98 L311.51 289.84 L314.13 289.66 L321.68 289.2 L329.68 288.73 L337.54 288.27 L345.08 287.8 L352.78 287.3 L360.48 286.8 L368.18 286.27 L375.73 285.66 L383.58 284.77 L391.44 283.95 L399.14 283.06 L406.99 281.74 L410.23 280.84 L414.69 280.06 L418.54 278.45 L422.55 276.52 L425.78 273.24 L429.32 267.53 L431.17 258.82 L433.33 247.86 L434.4 239.72 L435.33 229.4 L435.64 210.98" fill="none" stroke="#2a2a2a" stroke-width="0.8"/>
<path d="M435.64 210.98 L434.56 215.26 L434.1 220.26 L433.33 226.33 L432.25 238.11 L430.86 247.75 L429.32 255.96 L427.47 263.1 L425.32 268.46 L421.93 272.74 L417.31 275.95 L413.46 278.09 L410.23 279.52 L406.99 280.59 L399.14 282.38 L391.44 283.63 L383.58 284.52 L375.73 285.38 L368.18 286.09 L360.48 286.7 L352.78 287.23 L345.08 287.73 L337.54 288.2 L329.68 288.66 L321.68 289.13 L314.13 289.59 L311.51 289.77 L309.36 289.91 L307.2 290.05 L304.89 290.2" fill="none" stroke="#ee2a2a" stroke-width="1.5"/>
<circle cx="435.64" cy="210.98" r="1.4" fill="#fff" stroke="#ee2a2a" stroke-width="0.8"/>
<circle cx="434.56" cy="215.26" r="1.4" fill="#fff" stroke="#ee2a2a" stroke-width="0.8"/>
<circle cx="434.1" cy="220.26" r="1.4" fill="#fff" stroke="#ee2a2a" stroke-width="0.8"/>
<circle cx="433.33" cy="226.33" r="1.4" fill="#fff" stroke="#ee2a2a" stroke-width="0.8"/>
<circle cx="432.25" cy="238.11" r="1.4" fill="#fff" stroke="#ee2a2a" stroke-width="0.8"/>
<circle cx="430.86" cy="247.75" r="1.4" fill="#fff" stroke="#ee2a2a" stroke-width="0.8"/>
<circle cx="429.32" cy="255.96" r="1.4" fill="#fff" stroke="#ee2a2a" stroke-width="0.8"/>
<circle cx="427.47" cy="263.1" r="1.4" fill="#fff" stroke="#ee2a2a" stroke-width="0.8"/>
<circle cx="425.32" cy="268.46" r="1.4" fill="#fff" stroke="#ee2a2a" stroke-width="0.8"/>
<path d="M425.78 273.24 L429.32 267.53 L431.17 258.82 L433.33 247.86 L434.4 239.72 L435.33 229.4 L435.64 210.98" fill="none" stroke="#3a3a3a" stroke-width="0.8"/>
<circle cx="284.56" cy="292.87" r="1.3" fill="#333"/>
<circle cx="288.1" cy="291.84" r="1.3" fill="#333"/>
<circle cx="293.34" cy="291.3" r="1.3" fill="#333"/>
<circle cx="295.5" cy="291.05" r="1.3" fill="#333"/>
<circle cx="297.65" cy="290.84" r="1.3" fill="#333"/>
<circle cx="299.81" cy="290.66" r="1.3" fill="#333"/>
<circle cx="302.12" cy="290.48" r="1.3" fill="#333"/>
<circle cx="304.89" cy="290.27" r="1.3" fill="#333"/>
<circle cx="307.2" cy="290.12" r="1.3" fill="#333"/>
<circle cx="309.36" cy="289.98" r="1.3" fill="#333"/>
<circle cx="311.51" cy="289.84" r="1.3" fill="#333"/>
<circle cx="314.13" cy="289.66" r="1.3" fill="#333"/>
<circle cx="321.68" cy="289.2" r="1.3" fill="#333"/>
<circle cx="329.68" cy="288.73" r="1.3" fill="#333"/>
<circle cx="337.54" cy="288.27" r="1.3" fill="#333"/>
<circle cx="345.08" cy="287.8" r="1.3" fill="#333"/>
<circle cx="352.78" cy="287.3" r="1.3" fill="#333"/>
<circle cx="360.48" cy="286.8" r="1.3" fill="#333"/>
<circle cx="368.18" cy="286.27" r="1.3" fill="#333"/>
<circle cx="375.73" cy="285.66" r="1.3" fill="#333"/>
<circle cx="383.58" cy="284.77" r="1.3" fill="#333"/>
<circle cx="391.44" cy="283.95" r="1.3" fill="#333"/>
<circle cx="399.14" cy="283.06" r="1.3" fill="#333"/>
<circle cx="406.99" cy="281.74" r="1.3" fill="#333"/>
<circle cx="410.23" cy="280.84" r="1.3" fill="#333"/>
<circle cx="414.69" cy="280.06" r="1.3" fill="#333"/>
<circle cx="418.54" cy="278.45" r="1.3" fill="#333"/>
<circle cx="422.55" cy="276.52" r="1.3" fill="#333"/>
<circle cx="425.78" cy="273.24" r="1.3" fill="#333"/>
<circle cx="429.32" cy="267.53" r="1.3" fill="#333"/>
<circle cx="431.17" cy="258.82" r="1.3" fill="#333"/>
<circle cx="433.33" cy="247.86" r="1.3" fill="#333"/>
<circle cx="434.4" cy="239.72" r="1.3" fill="#333"/>
<circle cx="435.33" cy="229.4" r="1.3" fill="#333"/>
<circle cx="435.64" cy="210.98" r="1.3" fill="#333"/>
<circle cx="421.93" cy="272.74" r="1.6" fill="none" stroke="#ee2a2a" stroke-width="0.8"/>
<circle cx="417.31" cy="275.95" r="1.6" fill="none" stroke="#ee2a2a" stroke-width="0.8"/>
<circle cx="413.46" cy="278.09" r="1.6" fill="none" stroke="#ee2a2a" stroke-width="0.8"/>
<circle cx="410.23" cy="279.52" r="1.6" fill="none" stroke="#ee2a2a" stroke-width="0.8"/>
<circle cx="406.99" cy="280.59" r="1.6" fill="none" stroke="#ee2a2a" stroke-width="0.8"/>
<circle cx="399.14" cy="282.38" r="1.6" fill="none" stroke="#ee2a2a" stroke-width="0.8"/>
<circle cx="391.44" cy="283.63" r="1.6" fill="none" stroke="#ee2a2a" stroke-width="0.8"/>
<circle cx="383.58" cy="284.52" r="1.6" fill="none" stroke="#ee2a2a" stroke-width="0.8"/>
<circle cx="375.73" cy="285.38" r="1.6" fill="none" stroke="#ee2a2a" stroke-width="0.8"/>
<circle cx="368.18" cy="286.09" r="1.6" fill="none" stroke="#ee2a2a" stroke-width="0.8"/>
<circle cx="360.48" cy="286.7" r="1.6" fill="none" stroke="#ee2a2a" stroke-width="0.8"/>
<circle cx="352.78" cy="287.23" r="1.6" fill="none" stroke="#ee2a2a" stroke-width="0.8"/>
<circle cx="345.08" cy="287.73" r="1.6" fill="none" stroke="#ee2a2a" stroke-width="0.8"/>
<circle cx="337.54" cy="288.2" r="1.6" fill="none" stroke="#ee2a2a" stroke-width="0.8"/>
<circle cx="329.68" cy="288.66" r="1.6" fill="none" stroke="#ee2a2a" stroke-width="0.8"/>
<circle cx="321.68" cy="289.13" r="1.6" fill="none" stroke="#ee2a2a" stroke-width="0.8"/>
<circle cx="314.13" cy="289.59" r="1.6" fill="none" stroke="#ee2a2a" stroke-width="0.8"/>
<circle cx="311.51" cy="289.77" r="1.6" fill="none" stroke="#ee2a2a" stroke-width="0.8"/>
<circle cx="309.36" cy="289.91" r="1.6" fill="none" stroke="#ee2a2a" stroke-width="0.8"/>
<circle cx="307.2" cy="290.05" r="1.6" fill="none" stroke="#ee2a2a" stroke-width="0.8"/>
<circle cx="304.89" cy="290.2" r="1.6" fill="none" stroke="#ee2a2a" stroke-width="0.8"/>
<line x1="376" y1="295.8" x2="396.7" y2="295.8" stroke="#333" stroke-width="0.9"/>
<circle cx="386.7" cy="295.8" r="1.1" fill="#444"/>
<line x1="376" y1="308" x2="396.7" y2="308" stroke="#ff4040" stroke-width="1.5"/>
<circle cx="386.7" cy="308" r="1.5" fill="#fff" stroke="#ee3030" stroke-width="0.8"/>
<text x="399.6" y="298.4" font-size="10.1" text-anchor="start" >Adsorption</text>
<text x="399.6" y="310.8" font-size="10.1" text-anchor="start" >Desorption</text>
<rect x="268" y="182.5" width="185" height="134.4" fill="none" stroke="#1a1a1a" stroke-width="1.2"/>
<path d="M284.1 316.9v3M314.9 316.9v3M345.7 316.9v3M376.5 316.9v3M407.3 316.9v3M438.1 316.9v3" stroke="#1a1a1a" stroke-width="1"/>
<path d="M268.7 316.9v2M299.5 316.9v2M330.3 316.9v2M361.1 316.9v2M391.9 316.9v2M422.7 316.9v2" stroke="#1a1a1a" stroke-width="1"/>
<path d="M268 316.65h-3M268 298.8h-3M268 280.95h-3M268 263.1h-3M268 245.25h-3M268 227.4h-3M268 209.55h-3M268 191.7h-3" stroke="#1a1a1a" stroke-width="1"/>
<path d="M268 307.73h-2M268 289.88h-2M268 272.03h-2M268 254.18h-2M268 236.33h-2M268 218.48h-2M268 200.62h-2M268 182.78h-2" stroke="#1a1a1a" stroke-width="1"/>
<text x="284.1" y="328.9" font-size="9.5" text-anchor="middle" >0.0</text>
<text x="314.9" y="328.9" font-size="9.5" text-anchor="middle" >0.2</text>
<text x="345.7" y="328.9" font-size="9.5" text-anchor="middle" >0.4</text>
<text x="376.5" y="328.9" font-size="9.5" text-anchor="middle" >0.6</text>
<text x="407.3" y="328.9" font-size="9.5" text-anchor="middle" >0.8</text>
<text x="438.1" y="328.9" font-size="9.5" text-anchor="middle" >1.0</text>
<text x="262.6" y="319.95" font-size="9.5" text-anchor="end" >-50</text>
<text x="262.6" y="302.1" font-size="9.5" text-anchor="end" >0</text>
<text x="262.6" y="284.25" font-size="9.5" text-anchor="end" >50</text>
<text x="262.6" y="266.4" font-size="9.5" text-anchor="end" >100</text>
<text x="262.6" y="248.55" font-size="9.5" text-anchor="end" >150</text>
<text x="262.6" y="230.7" font-size="9.5" text-anchor="end" >200</text>
<text x="262.6" y="212.85" font-size="9.5" text-anchor="end" >250</text>
<text x="262.6" y="195" font-size="9.5" text-anchor="end" >300</text>
<text x="360.5" y="341" font-size="10" text-anchor="middle">Relative pressure (<tspan font-style="italic">p</tspan>/<tspan font-style="italic">p</tspan><tspan font-size="6.5" dy="2.5">0</tspan><tspan dy="-2.5">)</tspan></text>
<text transform="translate(242,256.5) rotate(-90)" font-size="10" text-anchor="middle">Volume adsorbed (cm<tspan font-size="6.5" dy="-4">3</tspan><tspan dy="4"> g</tspan><tspan font-size="6.5" dy="-4">-1</tspan><tspan dy="4">)</tspan></text>
<path d="M503.4 194.1 C504 194.25 505.63 194.53 507 195 C508.37 195.47 509.93 196.23 511.6 196.9 C513.27 197.57 515.2 198.32 517 199 C518.8 199.68 520.57 200.45 522.4 201 C524.23 201.55 526.2 201.9 528 202.3 C529.8 202.7 531.2 202.95 533.2 203.4 C535.2 203.85 537.48 204.47 540 205 C542.52 205.53 546.38 206.02 548.3 206.6 C550.22 207.18 550.42 207.6 551.5 208.5 C552.58 209.4 553.72 210.5 554.8 212 C555.88 213.5 556.92 215.52 558 217.5 C559.08 219.48 560.3 221.82 561.3 223.9 C562.3 225.98 563.1 228.02 564 230 C564.9 231.98 565.87 234.33 566.7 235.8 C567.53 237.27 568.1 237.92 569 238.8 C569.9 239.68 570.6 240.23 572.1 241.1 C573.6 241.97 575.98 243 578 244 C580.02 245 581.87 245.85 584.2 247.1 C586.53 248.35 589.32 249.98 592 251.5 C594.68 253.02 597.63 254.75 600.3 256.2 C602.97 257.65 605.3 258.92 608 260.2 C610.7 261.48 614.17 262.98 616.5 263.9 C618.83 264.82 620 265.13 622 265.7 C624 266.27 626.5 266.82 628.5 267.3 C630.5 267.78 631.98 268.1 634 268.6 C636.02 269.1 638.77 269.7 640.6 270.3 C642.43 270.9 643.65 271.52 645 272.2 C646.35 272.88 647.53 273.52 648.7 274.4 C649.87 275.28 650.98 276.5 652 277.5 C653.02 278.5 653.8 279.23 654.8 280.4 C655.8 281.57 657 283.15 658 284.5 C659 285.85 659.67 287 660.8 288.5 C661.93 290 664.13 292.67 664.8 293.5" fill="none" stroke="#3aaaa8" stroke-width="1.3"/>
<path d="M503.4 194.1 C504 194.28 505.63 194.55 507 195.2 C508.37 195.85 509.93 197.2 511.6 198 C513.27 198.8 515.2 199.37 517 200 C518.8 200.63 520.57 201.27 522.4 201.8 C524.23 202.33 526.2 202.77 528 203.2 C529.8 203.63 531.37 204 533.2 204.4 C535.03 204.8 537.2 205.17 539 205.6 C540.8 206.03 542.5 206.5 544 207 C545.5 207.5 546.92 208.13 548 208.6 C549.08 209.07 549.67 209.23 550.5 209.8 C551.33 210.37 552.28 211.1 553 212 C553.72 212.9 554.13 213.78 554.8 215.2 C555.47 216.62 556.28 218.33 557 220.5 C557.72 222.67 558.43 225.95 559.1 228.2 C559.77 230.45 560.28 231.83 561 234 C561.72 236.17 562.57 239.2 563.4 241.2 C564.23 243.2 565.05 244.5 566 246 C566.95 247.5 568.25 248.5 569.1 250.2 C569.95 251.9 570.58 254.23 571.1 256.2 C571.62 258.17 571.87 259.98 572.2 262 C572.53 264.02 572.63 266.3 573.1 268.3 C573.57 270.3 574.33 272.32 575 274 C575.67 275.68 576.35 277.15 577.1 278.4 C577.85 279.65 578.65 280.67 579.5 281.5 C580.35 282.33 581.08 282.82 582.2 283.4 C583.32 283.98 584.4 284.63 586.2 285 C588 285.37 590.65 285.47 593 285.6 C595.35 285.73 595.72 285.73 600.3 285.8 C604.88 285.87 613.78 286 620.5 286 C627.22 286 633.22 285.97 640.6 285.8 C647.98 285.63 660.77 285.13 664.8 285" fill="none" stroke="#4848b4" stroke-width="1.3"/>
<line x1="633.2" y1="193.1" x2="654.4" y2="193.1" stroke="#6a6ac4" stroke-width="1.3"/>
<line x1="633.2" y1="211.9" x2="654.4" y2="211.9" stroke="#4ab5b2" stroke-width="1.3"/>
<text x="657" y="196.6" font-size="10" text-anchor="start" >Air</text>
<text x="660.2" y="215.4" font-size="10">N<tspan font-size="6.5" dy="2.5">2</tspan></text>
<rect x="490" y="182.5" width="185" height="134.4" fill="none" stroke="#1a1a1a" stroke-width="1.2"/>
<path d="M499.6 316.9v3M518 316.9v3M536.4 316.9v3M554.8 316.9v3M573.2 316.9v3M591.6 316.9v3M610 316.9v3M628.4 316.9v3M646.8 316.9v3M665.2 316.9v3" stroke="#1a1a1a" stroke-width="1"/>
<path d="M490.4 316.9v2M508.8 316.9v2M527.2 316.9v2M545.6 316.9v2M564 316.9v2M582.4 316.9v2M600.8 316.9v2M619.2 316.9v2M637.6 316.9v2M656 316.9v2M674.4 316.9v2" stroke="#1a1a1a" stroke-width="1"/>
<path d="M490 316.9h-3M490 292.44h-3M490 267.98h-3M490 243.52h-3M490 219.06h-3M490 194.6h-3" stroke="#1a1a1a" stroke-width="1"/>
<path d="M490 304.67h-2M490 280.21h-2M490 255.75h-2M490 231.29h-2M490 206.83h-2" stroke="#1a1a1a" stroke-width="1"/>
<text x="499.6" y="328.7" font-size="9.5" text-anchor="middle" >0</text>
<text x="518" y="328.7" font-size="9.5" text-anchor="middle" >100</text>
<text x="536.4" y="328.7" font-size="9.5" text-anchor="middle" >200</text>
<text x="554.8" y="328.7" font-size="9.5" text-anchor="middle" >300</text>
<text x="573.2" y="328.7" font-size="9.5" text-anchor="middle" >400</text>
<text x="591.6" y="328.7" font-size="9.5" text-anchor="middle" >500</text>
<text x="610" y="328.7" font-size="9.5" text-anchor="middle" >600</text>
<text x="628.4" y="328.7" font-size="9.5" text-anchor="middle" >700</text>
<text x="646.8" y="328.7" font-size="9.5" text-anchor="middle" >800</text>
<text x="665.2" y="328.7" font-size="9.5" text-anchor="middle" >900</text>
<text x="484.7" y="320.2" font-size="9.5" text-anchor="end" >0</text>
<text x="484.7" y="295.74" font-size="9.5" text-anchor="end" >20</text>
<text x="484.7" y="271.28" font-size="9.5" text-anchor="end" >40</text>
<text x="484.7" y="246.82" font-size="9.5" text-anchor="end" >60</text>
<text x="484.7" y="222.36" font-size="9.5" text-anchor="end" >80</text>
<text x="484.7" y="197.9" font-size="9.5" text-anchor="end" >100</text>
<text x="582.7" y="342.2" font-size="10" text-anchor="middle" >Temperature (°C)</text>
<text transform="translate(469.2,255.8) rotate(-90)" font-size="10" text-anchor="middle">Weight (%)</text>
</svg></body></html>
